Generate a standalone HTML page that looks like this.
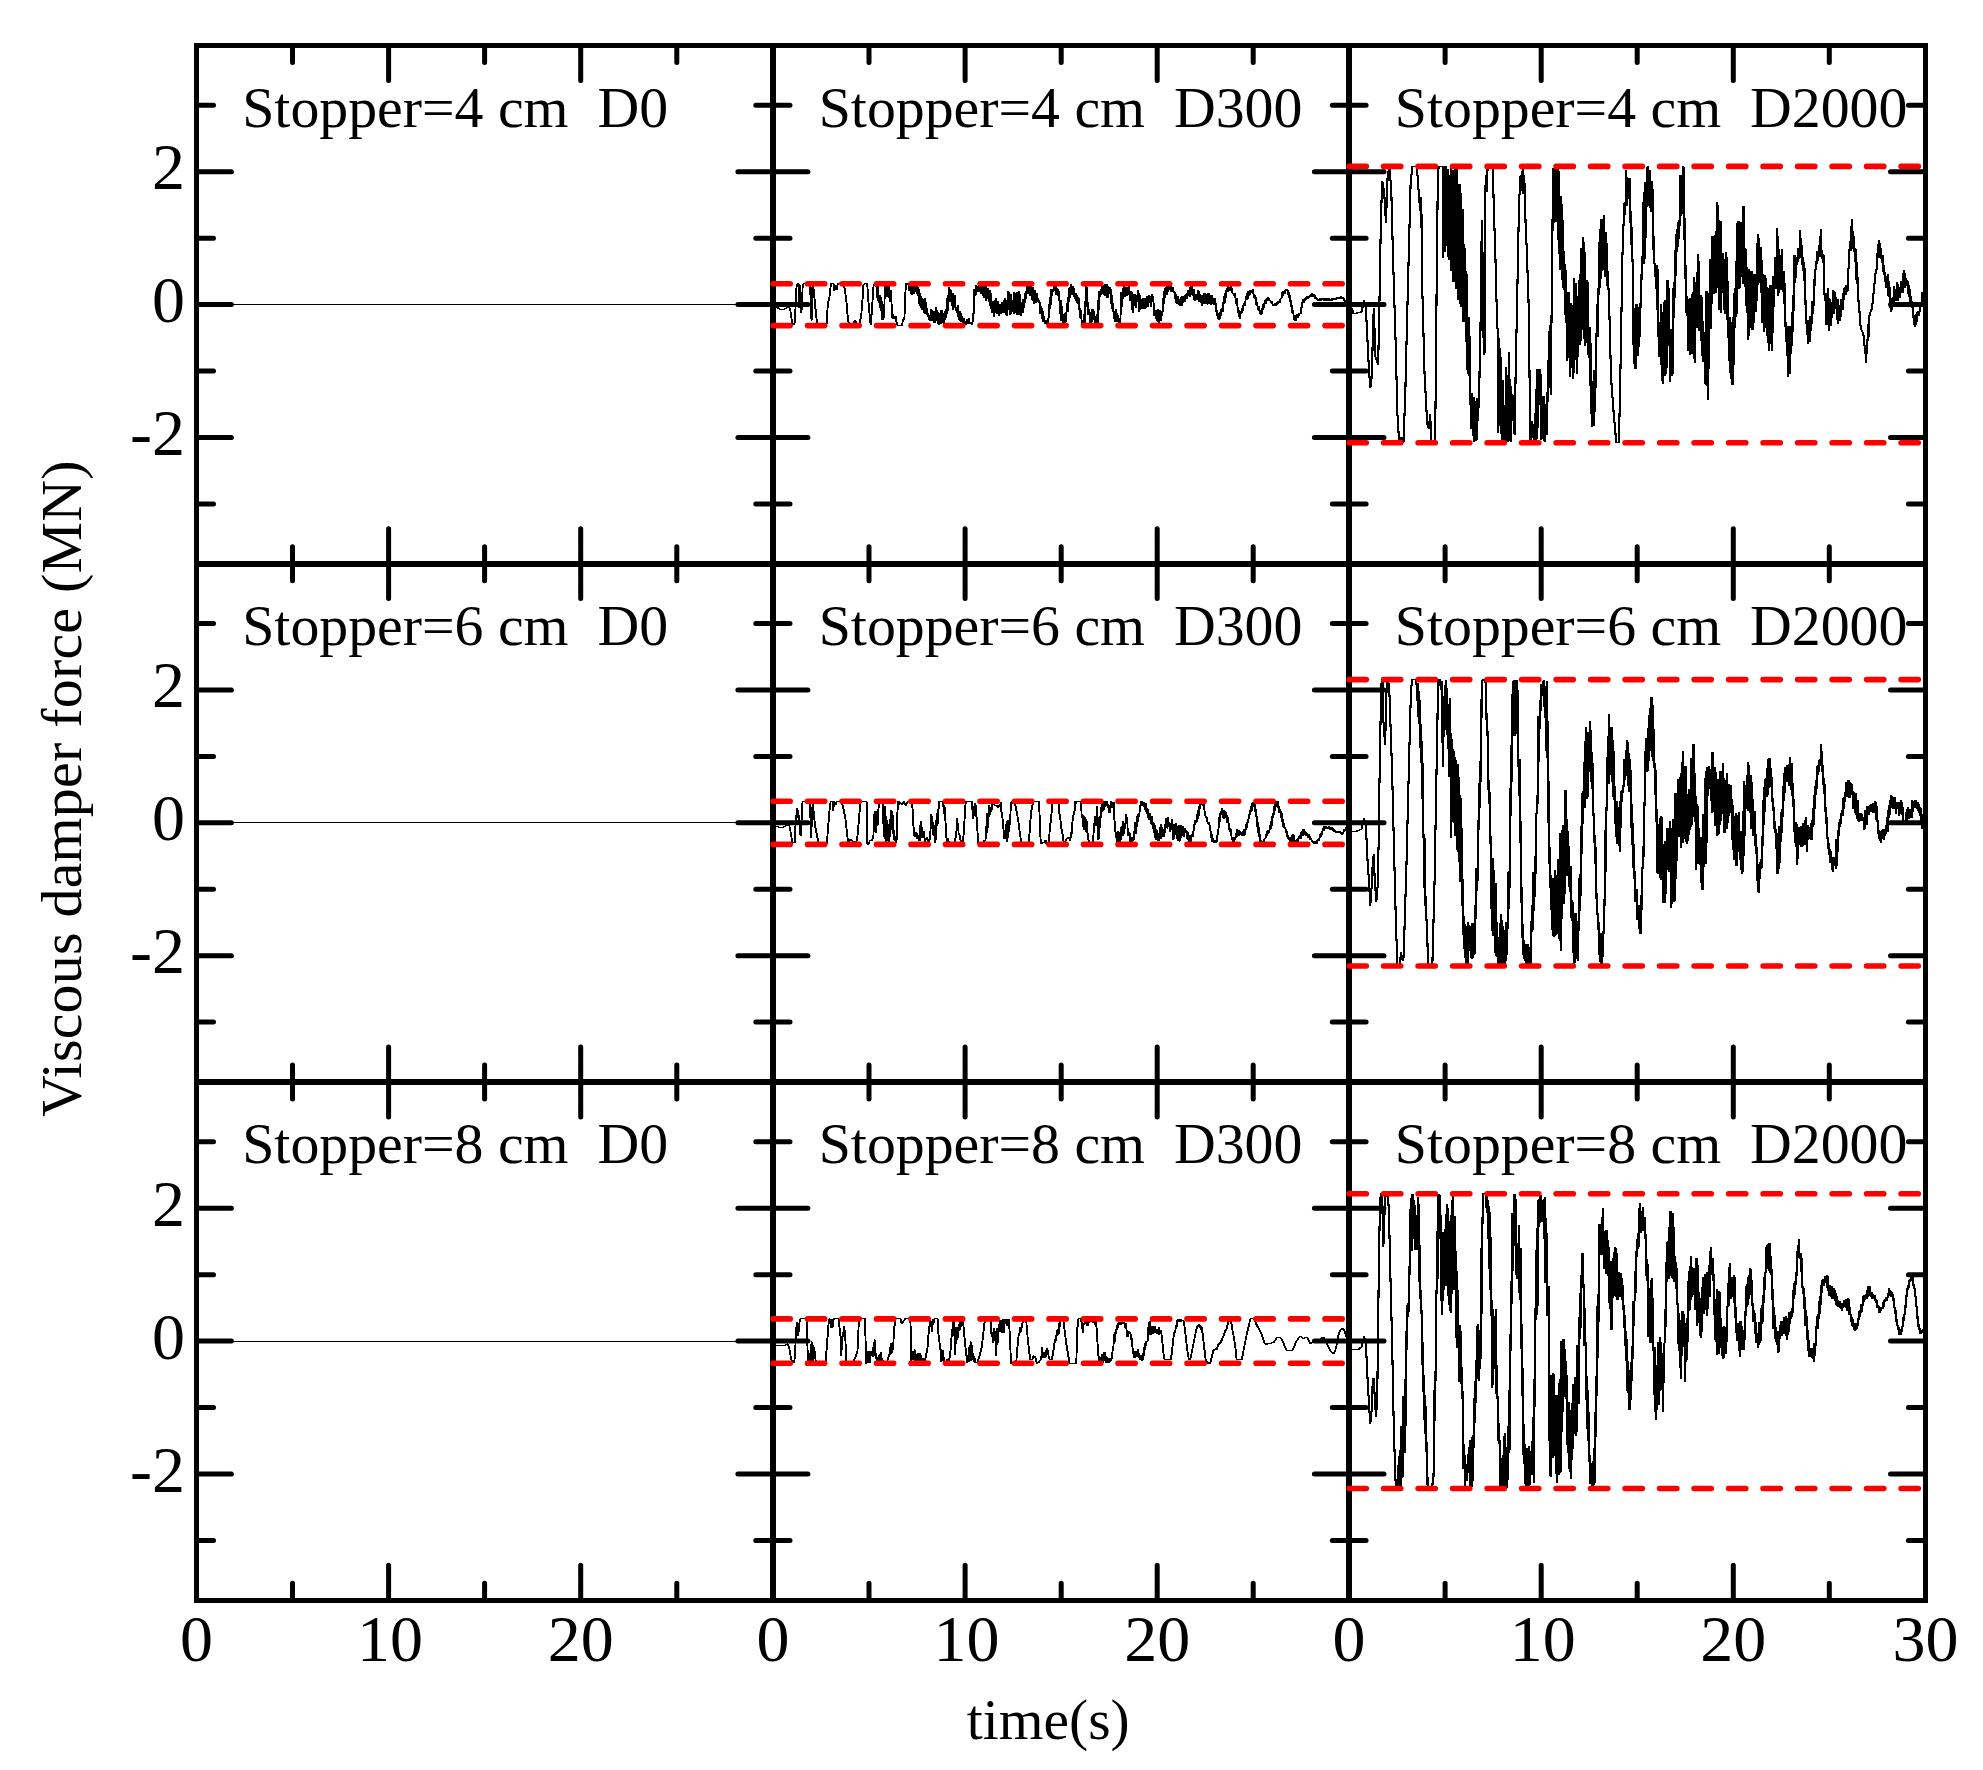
<!DOCTYPE html>
<html><head><meta charset="utf-8"><title>Viscous damper force</title>
<style>html,body{margin:0;padding:0;background:#fff}svg{display:block}text{font-family:"Liberation Serif","Times New Roman",serif;fill:#000}</style></head><body>
<svg width="1983" height="1770" viewBox="0 0 1983 1770">
<rect width="1983" height="1770" fill="#fff"/>
<g stroke="#000" fill="none" shape-rendering="crispEdges">
<rect x="196.5" y="45.5" width="1728.9" height="1554.6" stroke-width="5"/>
<path d="M773.0 45.5V1600.2M1349.1 45.5V1600.2M196.5 563.7H1925.4M196.5 1082.0H1925.4" stroke-width="6"/>
</g>
<g id="data" fill="none" shape-rendering="crispEdges">
<path stroke="#000" stroke-width="1" d="M196.5 304.6h576.3"/>
<path stroke="#000" stroke-width="1" d="M196.5 822.8h576.3"/>
<path stroke="#000" stroke-width="1" d="M196.5 1341.1h576.3"/>
<polyline id="d01" stroke="#000" stroke-width="1.0" stroke-linejoin="bevel" points="773.0,307.1 776.1,307.1 779.1,309.0 784.4,309.0 788.2,306.8 789.7,309.3 790.4,313.9 791.9,323.7 793.4,324.5 794.5,321.4 795.4,300.3 796.2,285.1 796.9,283.9 798.1,283.9 798.7,307.8 799.5,285.1 800.3,312.4 801.5,309.3 802.2,285.1 803.0,283.9 809.6,283.9 810.2,300.3 811.1,320.7 811.8,288.2 812.7,284.4 813.9,297.2 815.1,309.3 816.6,323.0 818.1,325.2 826.0,325.2 826.7,315.4 827.5,301.8 828.7,300.3 829.8,289.7 830.5,283.9 833.2,283.9 833.8,291.2 835.1,285.1 836.3,289.7 837.3,283.9 843.4,283.9 844.9,292.7 846.4,304.8 847.5,321.4 848.7,323.0 852.5,323.7 854.7,320.7 856.2,323.0 859.3,323.0 860.8,315.4 862.0,300.3 863.0,285.1 863.8,283.9 866.8,283.9 867.6,297.2 869.1,313.9 870.2,325.2 871.1,315.4 872.1,300.3 873.2,285.1 874.1,283.9 875.9,286.6 876.3,287.2 876.7,285.6 877.0,297.6 877.4,286.3 877.8,301.4 878.2,299.9 878.5,302.7 878.9,295.1 879.3,306.7 879.7,295.5 880.1,310.9 880.4,297.1 880.8,306.0 881.2,300.6 881.6,319.6 882.0,304.4 882.3,320.2 882.7,309.4 883.1,309.0 883.4,304.4 883.8,318.0 884.2,294.4 884.7,287.4 885.0,286.1 885.4,297.4 885.7,285.5 886.1,294.8 886.5,285.2 886.9,294.6 887.2,287.1 887.6,295.5 888.0,296.6 888.3,296.1 888.7,284.4 889.1,301.9 889.5,300.4 889.9,302.2 890.2,290.4 890.6,295.2 891.0,301.4 891.4,309.8 891.8,315.3 892.1,319.2 892.5,313.8 892.8,317.7 893.2,315.8 893.7,318.7 894.1,315.7 894.5,318.3 895.0,316.4 895.4,317.1 895.9,321.2 896.3,323.0 896.7,323.0 897.1,325.2 901.6,325.2 902.5,319.9 903.9,319.9 904.6,300.3 905.4,283.9 907.7,283.9 908.0,285.0 908.4,290.9 908.8,284.3 909.2,286.3 909.6,285.8 909.9,290.0 910.3,284.5 910.7,294.3 911.1,284.3 911.5,294.7 911.8,284.9 912.2,294.2 912.6,286.0 913.0,289.2 913.3,292.2 913.7,293.8 914.1,285.3 914.5,292.3 914.9,286.9 915.2,284.7 915.6,284.4 916.0,287.5 916.4,284.9 916.7,293.9 917.1,290.2 917.5,296.2 917.9,286.7 918.3,299.8 918.6,289.2 919.0,304.4 919.4,293.1 919.8,305.5 920.2,297.2 920.5,307.5 920.9,296.3 921.3,309.0 921.7,298.4 922.0,309.6 922.4,300.8 922.8,306.8 923.2,299.1 923.6,304.6 923.9,312.5 924.3,313.5 924.7,298.3 925.1,313.4 925.4,302.4 925.8,311.6 926.2,308.5 926.6,314.8 927.0,315.0 927.3,316.5 927.7,313.0 928.1,317.9 928.5,315.3 928.9,319.6 929.2,319.2 929.6,314.8 930.0,320.8 930.4,318.1 930.7,309.1 931.1,310.1 931.5,310.8 931.9,321.1 932.3,313.1 932.6,319.9 933.0,312.1 933.4,322.5 933.8,311.0 934.1,320.4 934.5,310.9 934.9,322.9 935.3,307.1 935.7,314.0 936.0,312.5 936.4,321.0 936.8,310.4 937.2,323.2 937.5,311.8 937.9,324.3 938.3,313.8 938.7,324.8 939.1,317.3 939.4,318.8 939.8,313.5 940.2,324.1 940.6,309.8 941.0,322.6 941.3,309.7 941.7,311.4 942.1,317.5 942.5,322.6 942.8,316.7 943.2,323.6 943.6,312.6 944.0,320.7 944.4,316.5 944.7,318.2 945.1,309.3 945.5,317.5 945.9,316.5 946.2,311.0 946.6,313.7 947.0,298.4 947.4,294.9 947.8,311.1 948.1,293.1 948.5,286.9 948.9,287.6 949.3,289.5 949.7,299.4 950.0,301.8 950.4,292.7 950.8,290.1 951.2,297.7 951.5,306.0 951.9,302.7 952.3,310.2 952.7,293.3 953.0,292.8 953.4,301.4 953.8,307.7 954.2,294.7 954.6,306.5 954.9,306.4 955.3,307.3 955.7,311.4 956.1,308.7 956.5,310.3 956.8,313.1 957.2,305.5 957.6,316.7 958.0,308.6 958.4,317.3 958.7,316.0 959.1,320.7 959.5,310.7 959.9,317.5 960.2,313.0 960.6,322.1 961.0,314.8 961.4,319.0 961.8,316.5 962.1,324.1 962.5,321.4 962.9,323.5 963.3,318.5 963.6,320.4 964.0,319.7 964.4,324.5 964.8,324.4 965.2,322.4 965.5,320.8 965.9,324.6 966.3,319.2 966.7,320.5 967.0,319.2 967.4,323.9 967.8,319.6 968.2,319.9 968.6,317.9 968.9,322.8 969.3,322.7 969.7,321.8 970.1,324.3 970.5,323.2 970.8,321.8 971.2,324.0 971.6,322.9 972.0,324.9 972.3,316.2 972.7,312.6 973.1,314.7 973.5,297.1 973.9,288.7 974.2,295.6 974.6,294.1 975.0,293.1 975.4,284.9 975.7,294.9 976.1,291.8 976.5,286.9 976.9,286.9 977.3,291.8 977.6,289.0 978.0,287.3 978.4,287.3 978.8,289.1 979.1,284.6 979.4,291.5 979.8,284.8 980.1,292.4 980.5,285.9 980.8,293.8 981.1,288.6 981.5,294.2 981.8,284.4 982.1,295.5 982.5,285.6 982.8,295.5 983.1,291.4 983.5,297.9 983.8,285.3 984.2,298.3 984.5,285.5 984.8,293.1 985.2,285.7 985.5,300.9 985.8,289.3 986.2,294.8 986.5,296.1 986.8,299.3 987.2,287.6 987.5,291.6 987.9,294.9 988.2,302.4 988.5,291.9 988.9,291.3 989.2,306.3 989.5,292.5 989.9,290.1 990.2,307.0 990.5,292.7 990.9,308.8 991.3,301.3 991.6,312.5 992.0,308.6 992.4,310.4 992.8,300.7 993.1,317.0 993.5,315.1 993.9,312.6 994.3,312.1 994.7,300.3 995.0,304.3 995.4,298.3 995.8,300.8 996.2,314.3 996.6,309.8 996.9,312.9 997.3,300.9 997.7,310.7 998.1,303.1 998.4,316.0 998.8,310.5 999.2,313.2 999.6,314.3 1000.0,312.5 1000.3,312.6 1000.7,313.5 1001.1,301.6 1001.5,310.8 1001.8,306.7 1002.2,305.1 1002.6,304.0 1003.0,312.5 1003.4,300.3 1003.7,313.0 1004.1,299.2 1004.5,299.8 1004.9,297.9 1005.2,307.1 1005.6,300.9 1006.0,314.9 1006.4,301.9 1006.8,315.5 1007.1,292.6 1007.5,310.1 1007.9,290.9 1008.3,292.4 1008.7,292.4 1009.0,307.5 1009.4,312.7 1009.8,314.5 1010.2,314.0 1010.5,313.5 1010.9,294.5 1011.3,304.7 1011.7,311.5 1012.1,310.5 1012.4,309.6 1012.8,305.7 1013.2,294.1 1013.6,313.8 1013.9,291.8 1014.3,313.3 1014.7,293.4 1015.1,312.6 1015.5,304.9 1015.8,311.9 1016.2,299.0 1016.6,314.5 1017.0,291.7 1017.4,305.5 1017.7,309.4 1018.1,315.3 1018.5,290.8 1018.9,315.2 1019.2,293.9 1019.6,313.4 1020.0,298.4 1020.4,315.5 1020.8,301.6 1021.1,305.5 1021.5,306.2 1021.9,305.7 1022.3,298.7 1022.6,312.9 1023.0,304.4 1023.4,308.3 1023.8,301.5 1024.2,302.7 1024.5,293.5 1024.9,299.9 1025.3,292.2 1025.7,299.1 1026.1,289.3 1026.4,292.2 1026.8,285.8 1027.2,292.4 1027.5,285.7 1027.9,294.1 1028.2,285.2 1028.5,293.6 1028.9,289.2 1029.2,296.2 1029.5,284.4 1029.9,289.2 1030.2,284.3 1030.5,290.4 1030.9,291.4 1031.2,298.6 1031.6,289.8 1031.9,299.8 1032.2,296.8 1032.6,301.4 1032.9,286.7 1033.2,302.9 1033.6,294.4 1033.9,304.0 1034.2,289.8 1034.6,290.6 1034.9,297.5 1035.3,299.7 1035.6,295.5 1035.9,303.3 1036.3,293.0 1036.6,300.7 1037.0,296.4 1037.4,301.7 1037.8,299.5 1038.2,302.2 1038.5,300.6 1038.9,302.3 1039.3,302.7 1039.7,313.7 1040.0,306.4 1040.4,306.1 1040.8,311.5 1041.2,308.3 1041.6,317.2 1041.9,319.2 1042.3,311.3 1042.7,321.7 1043.1,317.3 1043.4,316.0 1043.8,318.8 1044.2,323.8 1044.6,320.4 1045.0,323.0 1045.3,319.9 1045.7,323.1 1046.1,320.8 1046.5,324.9 1046.9,321.8 1047.2,323.1 1047.6,318.1 1048.0,321.8 1048.4,309.3 1048.7,312.8 1049.1,301.1 1049.5,309.2 1049.9,297.3 1050.3,304.5 1050.6,288.9 1051.0,294.7 1051.4,289.3 1051.8,296.0 1052.1,290.6 1052.5,291.2 1052.9,290.9 1053.3,288.5 1053.7,285.6 1054.0,289.5 1054.4,285.1 1054.8,291.4 1055.2,285.1 1055.6,295.4 1055.9,287.4 1056.3,289.1 1056.7,290.9 1057.1,289.7 1057.4,296.1 1057.8,288.9 1058.2,292.2 1058.6,300.9 1058.9,294.4 1059.3,311.9 1059.6,306.9 1060.0,313.5 1060.4,300.4 1060.8,320.6 1061.1,305.8 1061.5,316.4 1061.9,313.2 1062.3,323.5 1062.6,317.1 1063.0,322.5 1063.4,314.3 1063.8,323.5 1064.2,324.7 1064.5,324.8 1064.9,313.2 1065.3,321.7 1065.7,318.5 1066.1,309.6 1066.4,305.2 1066.8,310.0 1067.2,296.9 1067.6,311.8 1067.9,303.5 1068.3,299.9 1068.7,287.7 1069.1,298.7 1069.5,287.2 1069.8,296.6 1070.2,294.7 1070.6,285.1 1071.0,284.4 1071.3,289.8 1071.7,292.3 1072.1,290.1 1072.5,286.5 1072.9,295.3 1073.2,288.1 1073.6,296.8 1074.0,291.0 1074.4,299.1 1074.8,298.7 1075.1,298.1 1075.5,292.6 1075.9,300.5 1076.3,295.2 1076.6,302.9 1077.0,294.8 1077.4,304.4 1077.8,296.9 1078.2,305.9 1078.5,298.4 1078.9,310.0 1079.3,307.8 1079.7,311.8 1080.0,317.5 1080.4,309.7 1080.8,313.5 1081.2,323.6 1081.6,320.8 1081.9,319.9 1082.3,320.3 1082.7,323.3 1083.1,320.2 1083.4,323.0 1083.8,313.6 1084.2,323.3 1084.6,301.0 1085.0,311.2 1085.3,300.2 1085.7,304.8 1086.0,285.5 1086.5,292.1 1086.9,295.8 1087.3,307.0 1087.6,315.2 1088.0,313.9 1088.4,308.8 1088.7,309.5 1089.1,314.9 1089.5,323.6 1089.9,312.9 1090.3,324.8 1090.6,318.0 1091.0,312.3 1091.4,309.1 1091.8,321.6 1092.1,313.9 1092.5,320.1 1092.9,308.9 1093.3,312.6 1093.7,313.4 1094.0,319.2 1094.4,317.1 1094.8,323.5 1095.2,318.7 1095.6,324.7 1095.9,316.2 1096.3,320.6 1096.7,314.5 1097.1,324.2 1097.4,303.3 1097.8,318.3 1098.1,293.1 1098.5,309.8 1098.9,291.4 1099.3,296.9 1099.7,291.4 1100.1,295.6 1100.5,290.6 1100.8,293.9 1101.2,285.8 1101.6,294.3 1102.0,286.6 1102.4,292.5 1102.7,287.1 1103.1,294.0 1103.5,285.1 1103.9,295.2 1104.3,284.3 1104.6,296.2 1105.0,286.2 1105.4,294.0 1105.8,284.3 1106.1,289.0 1106.5,284.3 1106.9,298.3 1107.3,286.3 1107.7,298.3 1108.0,287.8 1108.4,294.4 1108.8,289.0 1109.2,291.9 1109.5,286.7 1109.9,294.3 1110.3,289.1 1110.7,304.4 1111.1,294.3 1111.4,308.8 1111.8,299.8 1112.2,311.6 1112.6,302.9 1113.0,310.0 1113.3,313.8 1113.7,318.2 1114.1,318.3 1114.5,321.6 1114.8,318.9 1115.2,308.8 1115.6,310.3 1116.0,316.7 1116.4,313.5 1116.7,322.0 1117.1,321.0 1117.5,315.8 1117.9,314.9 1118.2,324.7 1118.6,322.9 1119.0,322.4 1119.4,322.7 1119.8,324.7 1120.1,314.6 1120.5,314.8 1120.9,291.7 1121.3,306.8 1121.6,301.0 1122.0,298.8 1122.4,287.9 1122.8,298.6 1123.2,285.0 1123.5,296.7 1123.9,286.5 1124.2,296.9 1124.5,290.1 1124.9,296.4 1125.2,296.1 1125.6,286.9 1125.9,287.1 1126.2,295.7 1126.6,286.7 1126.9,292.3 1127.3,288.1 1127.7,294.8 1128.1,289.5 1128.5,284.4 1128.8,289.3 1129.2,299.9 1129.6,291.3 1130.0,300.5 1130.3,292.7 1130.7,292.7 1131.1,290.8 1131.5,310.1 1131.9,300.5 1132.2,312.7 1132.6,293.9 1133.0,303.6 1133.4,296.3 1133.8,300.5 1134.1,305.3 1134.5,305.4 1134.9,294.2 1135.3,308.0 1135.6,306.1 1136.0,295.9 1136.4,302.2 1136.8,301.6 1137.2,290.5 1137.5,301.4 1137.9,293.4 1138.3,311.7 1138.7,293.1 1139.0,311.6 1139.4,295.4 1139.8,310.0 1140.2,308.3 1140.6,299.2 1140.9,305.8 1141.3,306.8 1141.7,302.7 1142.1,308.9 1142.5,299.8 1142.8,297.6 1143.2,304.2 1143.6,298.8 1144.0,302.5 1144.3,309.2 1144.7,297.6 1145.1,307.8 1145.5,303.1 1145.9,305.3 1146.2,299.0 1146.6,300.6 1147.0,295.6 1147.4,307.4 1147.7,304.0 1148.1,304.1 1148.5,295.1 1148.9,302.7 1149.3,300.7 1149.6,301.7 1150.0,296.1 1150.4,306.7 1150.8,299.8 1151.1,301.9 1151.5,293.9 1151.9,295.5 1152.3,296.6 1152.7,300.6 1153.0,299.2 1153.4,311.5 1153.8,315.5 1154.2,312.7 1154.6,312.9 1154.9,310.0 1155.3,310.7 1155.7,318.7 1156.1,316.2 1156.4,319.5 1156.8,321.1 1157.2,315.6 1157.6,308.7 1158.0,322.1 1158.3,318.9 1158.7,322.6 1159.1,309.7 1159.5,319.4 1159.8,315.0 1160.2,311.4 1160.6,320.8 1161.0,317.2 1161.4,312.1 1161.7,315.5 1162.1,312.1 1162.5,308.6 1162.9,297.6 1163.3,303.6 1163.6,291.5 1164.0,301.8 1164.4,289.9 1164.8,290.2 1165.1,287.2 1165.5,295.4 1165.9,288.3 1166.3,294.5 1166.7,286.5 1167.0,293.2 1167.4,288.6 1167.8,288.6 1168.2,286.7 1168.5,287.0 1168.9,285.5 1169.3,288.7 1169.7,284.7 1170.1,291.7 1170.4,285.5 1170.8,287.2 1171.2,286.6 1171.6,292.2 1172.0,288.6 1172.3,287.4 1172.7,291.2 1173.1,290.9 1173.5,291.2 1173.8,292.7 1174.2,291.9 1174.6,299.1 1175.0,292.0 1175.4,302.6 1175.7,293.7 1176.1,302.6 1176.5,301.1 1176.9,304.2 1177.2,295.9 1177.6,304.2 1178.0,297.3 1178.4,304.9 1178.8,299.0 1179.1,299.6 1179.5,304.3 1179.9,306.3 1180.3,296.9 1180.7,302.4 1181.0,301.3 1181.4,305.8 1181.8,296.3 1182.2,301.9 1182.5,296.7 1182.9,302.5 1183.3,297.4 1183.7,297.5 1184.1,295.1 1184.4,302.3 1184.8,294.6 1185.2,298.9 1185.6,293.6 1185.9,295.8 1186.3,294.8 1186.7,298.8 1187.1,291.8 1187.5,293.4 1187.8,290.0 1188.2,296.2 1188.6,294.3 1189.0,294.1 1189.3,287.0 1189.7,296.5 1190.1,286.0 1190.5,291.0 1190.9,284.3 1191.2,286.2 1191.6,293.8 1192.0,295.0 1192.4,295.1 1192.8,295.6 1193.1,288.6 1193.5,299.6 1193.9,290.0 1194.3,299.9 1194.6,300.6 1195.0,299.7 1195.4,294.3 1195.8,299.5 1196.2,294.5 1196.5,299.8 1196.9,298.6 1197.3,300.0 1197.7,290.4 1198.0,300.4 1198.4,291.0 1198.8,301.6 1199.2,296.8 1199.6,301.7 1199.9,294.3 1200.3,303.2 1200.7,299.7 1201.1,296.4 1201.5,294.7 1201.8,305.5 1202.2,295.1 1202.6,297.1 1203.0,297.3 1203.3,304.2 1203.7,293.3 1204.1,295.9 1204.5,293.1 1204.9,300.3 1205.2,295.5 1205.6,303.9 1206.0,293.7 1206.4,296.2 1206.7,304.1 1207.1,304.1 1207.5,292.8 1207.9,303.5 1208.3,293.0 1208.6,295.2 1209.0,293.6 1209.4,303.7 1209.8,301.2 1210.2,303.5 1210.5,294.8 1210.9,305.1 1211.3,295.3 1211.7,304.4 1212.0,301.5 1212.4,303.6 1212.8,297.9 1213.2,304.9 1213.6,298.1 1213.9,299.4 1214.3,298.4 1214.7,305.4 1215.1,302.2 1215.4,311.1 1215.8,308.7 1216.2,314.2 1216.6,310.0 1217.0,316.0 1217.3,313.5 1217.7,318.8 1218.0,314.2 1218.4,319.8 1218.8,313.9 1219.2,318.6 1219.6,312.1 1220.0,314.0 1220.4,308.9 1220.7,315.8 1221.1,308.3 1221.5,311.9 1221.9,309.1 1222.3,311.6 1222.6,302.1 1223.0,306.5 1223.4,297.8 1223.8,304.3 1224.1,293.5 1224.5,302.5 1224.9,293.0 1225.3,298.3 1225.7,289.8 1226.0,290.3 1226.4,288.3 1226.8,289.2 1227.2,286.5 1227.5,291.9 1227.9,286.5 1228.3,291.0 1228.7,288.0 1229.1,290.4 1229.4,287.5 1229.8,290.4 1230.2,286.5 1230.6,291.1 1231.0,286.5 1231.3,291.9 1231.7,292.2 1232.1,293.1 1232.5,292.9 1232.8,293.9 1233.2,293.9 1233.6,296.4 1234.0,293.0 1234.4,296.4 1234.7,293.4 1235.1,299.4 1235.5,301.2 1235.9,303.6 1236.2,297.6 1236.6,305.5 1237.0,305.8 1237.4,310.6 1237.8,310.5 1238.1,314.3 1238.5,309.8 1238.9,316.7 1239.3,312.7 1239.7,318.6 1240.0,314.0 1240.4,313.3 1240.8,311.3 1241.2,311.3 1241.5,308.5 1241.9,312.8 1242.3,305.1 1242.7,310.9 1243.1,304.5 1243.4,303.6 1243.8,302.7 1244.2,306.3 1244.6,300.7 1244.9,304.0 1245.3,297.0 1245.7,298.9 1246.1,295.1 1246.5,300.3 1246.8,293.4 1247.2,298.9 1247.6,291.5 1248.0,294.8 1248.4,291.3 1248.7,296.1 1249.1,290.3 1249.5,294.6 1249.9,289.9 1250.2,292.4 1250.6,290.1 1251.0,292.2 1251.4,292.2 1251.8,293.1 1252.1,289.3 1252.5,293.5 1252.9,290.6 1253.3,296.2 1253.6,294.2 1254.0,297.6 1254.4,294.6 1254.8,298.6 1255.2,296.7 1255.5,302.3 1255.9,304.3 1256.3,305.5 1256.7,302.1 1257.0,306.4 1257.4,306.3 1257.8,309.7 1258.2,305.9 1258.6,311.1 1258.9,309.5 1259.3,313.1 1259.7,309.7 1260.1,314.9 1260.5,311.2 1260.8,313.4 1261.2,313.6 1261.6,310.6 1262.0,307.9 1262.3,310.4 1262.7,304.4 1263.1,308.0 1263.5,303.1 1263.9,306.5 1264.2,301.6 1264.6,301.3 1265.0,300.4 1265.4,303.6 1265.7,299.6 1266.1,299.3 1266.5,298.3 1266.9,300.9 1267.3,300.8 1267.6,299.8 1268.0,297.0 1268.4,299.9 1268.8,298.4 1269.2,300.5 1269.5,300.3 1269.9,300.2 1270.3,301.5 1270.7,302.9 1271.0,300.6 1271.4,304.1 1271.8,302.2 1272.2,304.8 1272.6,303.8 1272.9,306.0 1273.3,305.5 1273.7,305.9 1274.1,302.9 1274.4,305.9 1274.8,303.1 1275.2,305.8 1275.6,303.9 1276.0,305.4 1276.3,302.4 1276.7,305.1 1277.1,304.0 1277.5,304.2 1277.9,301.4 1278.2,303.3 1278.6,301.1 1279.0,302.6 1279.4,300.5 1279.7,302.5 1280.1,298.5 1280.5,297.8 1280.9,298.4 1281.3,297.7 1281.6,291.6 1282.0,294.2 1282.4,295.8 1282.8,290.8 1283.1,291.3 1283.5,294.1 1283.9,293.0 1284.3,293.6 1284.7,290.4 1285.0,290.3 1285.4,289.7 1285.8,290.8 1286.2,288.9 1286.6,291.3 1286.9,289.3 1287.3,292.4 1287.7,290.0 1288.1,295.9 1288.4,292.3 1288.8,298.3 1289.2,294.6 1289.6,299.5 1290.0,302.4 1290.3,301.5 1290.7,300.6 1291.1,308.6 1291.5,305.2 1291.8,312.7 1292.2,309.7 1292.6,312.0 1293.0,313.5 1293.4,319.9 1293.7,316.3 1294.1,320.8 1294.5,316.5 1294.9,320.6 1295.2,320.6 1295.6,320.1 1296.0,314.6 1296.4,317.8 1296.8,314.1 1297.1,317.4 1297.5,316.9 1297.9,314.3 1298.3,313.1 1298.7,316.1 1299.0,314.7 1299.4,313.2 1299.8,314.3 1300.2,313.5 1300.5,307.5 1300.9,310.5 1301.3,304.9 1301.7,305.9 1302.1,301.0 1302.4,300.2 1302.8,299.4 1303.2,302.9 1303.6,299.1 1303.9,301.8 1304.3,299.7 1304.7,299.8 1305.1,296.9 1305.4,299.7 1305.8,297.1 1306.1,297.7 1306.4,296.2 1306.8,296.3 1307.1,296.7 1307.4,298.2 1307.8,298.3 1308.1,298.2 1308.5,296.3 1308.9,297.6 1309.2,294.8 1309.6,296.8 1310.0,296.8 1310.4,296.9 1310.8,293.9 1311.1,296.5 1311.5,293.5 1311.9,296.1 1312.3,295.0 1312.6,295.5 1313.0,296.6 1313.4,295.8 1313.8,294.5 1314.2,296.8 1314.5,295.3 1314.9,298.5 1315.3,296.8 1315.7,297.8 1316.1,298.6 1316.4,300.2 1316.8,298.6 1317.2,300.5 1317.6,300.1 1317.9,300.0 1318.3,299.4 1318.7,300.3 1319.1,298.4 1319.5,300.7 1319.8,300.1 1320.2,300.7 1320.6,298.0 1321.0,300.3 1321.3,297.7 1321.7,299.4 1322.1,298.0 1322.5,300.2 1322.9,299.6 1323.2,300.3 1323.6,298.5 1324.0,300.6 1324.4,298.8 1324.8,300.1 1325.1,299.3 1325.5,300.7 1325.9,298.4 1326.3,300.6 1326.6,298.4 1327.0,299.3 1327.4,299.9 1327.8,299.6 1328.2,298.9 1328.5,300.7 1328.9,298.5 1329.3,300.3 1329.7,299.6 1330.0,300.5 1330.4,298.9 1330.8,300.9 1331.2,299.0 1331.6,300.5 1331.9,298.5 1332.3,298.7 1332.7,298.7 1333.1,299.5 1333.4,299.5 1333.8,299.1 1334.2,298.0 1334.6,298.9 1335.0,298.3 1335.3,299.5 1335.7,298.4 1336.1,298.2 1336.5,297.3 1336.9,299.3 1337.2,297.4 1337.6,299.1 1338.0,298.0 1338.4,298.9 1338.7,296.9 1339.1,297.7 1339.5,298.2 1339.9,298.7 1340.3,296.5 1340.6,298.0 1341.0,297.4 1341.4,298.7 1341.8,296.8 1342.1,297.0 1342.5,297.2 1342.9,298.3 1343.3,298.0 1343.7,300.6 1344.0,299.0 1344.4,301.4 1344.8,300.4 1345.2,301.6 1345.6,299.9 1345.9,301.8 1346.3,301.4 1346.7,302.5 1347.1,301.4 1347.5,302.2 1347.9,301.5 1348.3,301.5 1348.7,301.8"/>
<use href="#d01" x="0.9"/>
<polyline id="d11" stroke="#000" stroke-width="1.0" stroke-linejoin="bevel" points="773.0,825.1 776.8,826.6 779.1,827.6 783.6,827.0 786.6,825.1 788.9,825.8 790.4,833.4 791.9,843.2 794.2,842.5 795.0,825.8 796.0,815.2 796.9,807.7 797.7,818.3 798.4,815.2 799.5,833.4 800.3,836.4 801.2,818.3 802.1,801.3 809.6,801.3 810.2,825.8 810.8,837.9 811.6,810.7 812.4,803.1 813.1,810.7 814.6,825.8 816.1,833.4 817.7,841.0 818.4,844.0 826.3,844.0 827.2,833.4 828.2,821.3 829.3,807.7 830.2,801.3 832.0,801.3 832.8,810.7 833.5,801.3 835.1,804.6 836.6,801.3 840.3,801.3 841.9,804.6 843.4,810.7 844.9,818.3 846.4,831.9 847.5,841.0 848.7,841.0 850.2,839.4 851.7,841.0 856.2,841.0 857.4,833.4 858.5,818.3 859.6,806.2 860.5,801.3 866.1,801.3 866.5,818.3 866.8,844.0 868.3,844.0 869.5,840.2 871.1,841.0 872.9,837.9 873.6,818.3 874.4,810.7 875.1,833.4 876.2,810.7 877.1,825.8 878.2,806.2 879.2,801.3 882.0,801.3 882.3,806.5 882.7,802.2 883.1,830.3 883.5,809.7 883.8,837.3 884.2,810.1 884.6,838.5 885.0,806.2 885.4,842.5 885.7,820.3 886.1,841.6 886.5,819.9 886.9,826.3 887.2,835.1 887.6,824.4 888.0,826.6 888.4,843.2 888.8,831.9 889.1,838.1 889.5,819.0 889.9,831.4 890.2,829.7 890.6,819.2 891.0,809.9 891.5,824.7 891.8,811.5 892.2,816.5 892.5,819.1 892.9,834.4 893.3,829.7 893.7,840.1 894.1,835.6 894.4,838.5 894.8,838.6 895.2,843.4 895.6,839.8 895.9,841.5 896.3,838.9 896.7,830.6 897.1,807.4 897.5,809.8 897.8,801.3 898.2,804.8 898.6,801.3 901.6,804.6 903.1,801.6 905.4,805.4 906.9,802.4 907.7,801.3 911.5,801.3 912.2,810.7 913.0,825.8 913.7,834.9 914.1,835.8 914.5,834.0 914.9,837.2 915.2,832.2 915.6,836.6 916.0,834.1 916.4,838.7 916.7,832.7 917.1,836.2 917.5,837.9 917.9,839.3 918.3,835.3 918.7,840.6 919.1,834.3 919.5,840.6 920.0,825.2 920.4,837.9 920.8,821.0 921.1,827.0 921.5,830.2 921.9,833.7 922.3,836.6 922.6,837.6 923.0,831.1 923.4,832.0 923.8,835.0 924.2,840.5 924.5,841.4 926.8,836.9 927.6,843.0 929.5,839.2 930.2,827.8 931.0,814.2 931.3,819.7 931.7,821.9 932.1,829.6 932.5,821.8 932.9,835.4 933.2,824.6 933.6,836.0 934.0,825.8 934.4,842.7 934.8,838.2 935.1,841.6 935.5,823.2 935.9,820.9 936.3,818.8 936.6,826.0 937.0,813.3 937.4,823.8 937.8,809.4 938.2,808.8 938.5,801.3 942.7,801.3 943.1,808.0 943.4,805.5 943.8,813.6 944.2,807.4 944.6,819.9 945.0,820.3 945.7,835.4 946.5,841.4 946.9,840.9 947.2,838.3 947.6,843.0 948.0,840.0 948.4,843.4 948.7,844.1 954.0,844.1 954.8,839.9 955.2,837.2 955.6,836.8 955.9,836.5 956.3,817.8 956.7,825.3 957.1,831.4 957.4,825.6 957.8,822.6 958.2,835.0 958.6,833.9 959.0,833.6 959.3,836.5 959.7,837.8 960.1,840.6 960.5,841.1 960.8,842.4 961.2,843.6 961.6,840.1 962.0,842.7 962.4,844.1 963.1,835.4 963.9,823.3 964.6,808.9 965.4,801.3 971.1,801.3 971.4,809.3 971.8,801.4 972.2,818.4 972.6,805.8 973.0,819.1 973.3,811.2 973.7,815.9 974.1,815.7 974.5,812.4 974.8,802.9 975.2,817.4 975.6,804.6 976.0,815.8 976.4,820.3 977.1,832.4 977.9,844.1 980.5,844.1 982.8,844.1 983.9,839.9 984.3,840.4 984.7,840.6 985.1,839.8 985.4,829.7 985.8,834.6 986.2,818.6 986.6,832.7 986.9,813.2 987.3,827.9 987.7,813.4 988.1,818.1 988.5,804.8 988.8,808.9 989.2,810.9 989.6,815.4 990.0,812.5 990.3,810.8 990.7,807.1 991.1,810.4 991.5,804.4 992.6,804.4 994.5,805.1 994.9,805.4 995.3,806.2 995.6,805.4 996.0,805.2 996.4,805.6 996.8,805.5 997.2,807.6 997.5,805.9 997.9,807.1 998.3,805.9 998.7,806.0 999.0,806.1 999.4,804.5 999.8,803.9 1000.2,809.4 1000.6,802.1 1000.9,810.7 1001.3,813.7 1001.7,815.0 1002.5,823.3 1003.2,830.8 1003.6,834.9 1004.0,839.3 1004.3,831.0 1004.7,836.2 1005.1,833.5 1005.5,839.1 1005.9,823.9 1006.2,842.4 1006.6,820.7 1007.0,834.5 1007.4,820.1 1007.7,838.0 1008.1,826.7 1008.5,832.3 1008.9,819.9 1009.3,825.3 1009.6,818.9 1010.0,814.7 1010.4,801.7 1010.8,809.4 1011.1,802.2 1011.5,803.5 1011.9,801.3 1013.8,801.3 1014.6,804.4 1015.7,808.9 1016.8,815.0 1018.0,821.8 1018.7,827.8 1019.5,833.9 1020.2,838.4 1021.0,844.1 1028.2,844.1 1028.9,835.4 1029.7,824.8 1030.4,815.0 1031.2,808.9 1032.0,805.1 1032.7,801.3 1038.4,801.3 1038.8,807.4 1039.5,824.0 1040.3,844.1 1042.5,842.2 1044.1,842.2 1045.2,839.9 1045.9,844.1 1048.6,844.1 1049.3,827.8 1050.5,820.3 1051.6,807.4 1052.4,801.3 1058.4,801.3 1058.8,812.7 1059.9,818.7 1060.7,826.3 1061.5,832.4 1062.6,835.4 1063.3,844.1 1064.9,841.4 1066.4,838.4 1067.9,836.9 1069.4,839.2 1069.8,840.4 1070.2,837.4 1070.6,838.2 1071.0,831.9 1071.4,833.8 1071.8,823.5 1072.2,820.3 1072.6,817.5 1072.9,816.3 1073.3,811.0 1073.7,815.0 1074.0,811.7 1074.3,808.5 1074.7,801.3 1075.1,804.0 1075.5,802.6 1075.9,801.3 1080.4,801.3 1080.8,804.7 1081.2,816.9 1081.6,817.5 1082.0,817.1 1082.4,815.6 1082.8,827.0 1083.1,815.2 1083.5,830.0 1083.9,820.2 1084.3,828.1 1084.7,816.6 1085.0,824.5 1085.4,819.3 1085.8,831.5 1086.2,821.4 1086.6,832.5 1086.9,829.5 1087.3,836.0 1087.6,838.5 1088.0,839.9 1088.4,840.0 1088.7,844.0 1092.5,844.0 1093.3,830.4 1094.5,818.3 1094.8,816.4 1095.2,822.9 1095.6,815.9 1095.9,825.5 1096.3,822.2 1096.6,806.4 1097.0,809.1 1097.4,837.5 1097.8,840.1 1098.3,837.6 1098.7,831.8 1099.2,826.8 1099.6,821.7 1100.1,814.6 1100.5,806.6 1100.9,818.1 1101.3,804.4 1101.6,811.7 1102.0,809.8 1102.4,811.2 1102.7,801.4 1103.1,810.7 1103.5,801.3 1103.9,805.0 1104.3,801.3 1104.6,806.9 1105.0,801.3 1105.4,803.8 1105.8,804.6 1106.1,802.2 1106.5,801.3 1106.9,805.8 1107.3,804.4 1107.7,808.4 1108.0,805.0 1108.4,812.7 1108.8,804.8 1109.2,806.9 1109.5,810.2 1109.9,813.4 1110.3,801.5 1110.7,802.3 1111.0,801.4 1111.4,808.3 1111.8,802.0 1112.2,808.1 1112.5,802.6 1112.9,807.7 1113.3,802.0 1113.9,818.3 1114.8,830.4 1115.2,833.6 1115.6,838.1 1116.0,834.0 1116.4,843.2 1116.7,832.4 1117.1,843.5 1117.5,831.3 1117.9,842.5 1118.2,841.7 1118.6,837.0 1119.0,841.2 1119.4,841.7 1119.8,832.4 1120.1,840.0 1120.5,834.2 1120.9,827.9 1121.3,826.5 1121.6,831.8 1122.0,836.1 1122.4,834.7 1122.8,821.5 1123.2,834.1 1123.5,823.0 1123.9,833.4 1124.3,824.8 1124.7,824.2 1125.0,825.6 1125.4,820.5 1125.7,813.8 1126.1,818.6 1126.5,821.8 1126.9,817.2 1127.2,831.9 1127.6,835.6 1128.0,830.8 1128.4,834.8 1128.8,832.3 1129.2,833.0 1129.5,836.0 1129.9,841.6 1130.3,836.8 1130.7,843.4 1131.1,840.5 1131.5,842.5 1131.9,838.4 1132.2,840.1 1132.6,837.5 1133.0,840.6 1133.4,837.7 1133.8,838.5 1134.1,828.0 1134.5,834.2 1134.9,822.0 1135.3,833.6 1135.6,823.4 1136.0,830.6 1136.4,816.5 1136.8,825.6 1137.2,817.3 1137.5,821.5 1137.9,813.8 1138.3,816.5 1138.7,813.3 1139.0,813.0 1139.4,808.1 1139.8,804.7 1140.2,805.0 1140.6,805.3 1140.9,801.4 1141.3,801.8 1141.7,801.3 1142.1,804.1 1142.5,801.7 1142.8,806.2 1143.2,801.8 1143.6,806.6 1144.0,804.5 1144.3,808.3 1144.7,806.8 1145.1,810.7 1145.5,803.5 1145.9,810.8 1146.2,813.3 1146.6,813.7 1147.0,808.1 1147.4,811.1 1147.7,813.3 1148.1,819.0 1148.5,812.6 1148.9,819.5 1149.3,812.9 1149.6,819.1 1150.0,817.7 1150.4,820.1 1150.8,823.5 1151.1,824.7 1151.5,816.3 1151.9,824.4 1152.3,826.7 1152.7,829.2 1153.0,821.6 1153.4,832.5 1153.8,823.3 1154.2,827.2 1154.6,825.5 1154.9,837.7 1155.3,830.6 1155.7,840.2 1156.1,829.2 1156.4,838.6 1156.8,830.2 1157.2,840.6 1157.6,835.3 1158.0,836.0 1158.3,832.9 1158.7,840.5 1159.1,835.9 1159.5,828.0 1159.8,826.6 1160.2,834.2 1160.6,823.9 1161.0,839.0 1161.4,826.6 1161.7,827.8 1162.1,829.2 1162.5,836.6 1162.9,835.7 1163.3,837.1 1163.6,829.5 1164.0,836.0 1164.4,824.1 1164.8,829.7 1165.1,828.0 1165.5,818.8 1165.9,818.6 1166.3,826.1 1166.7,818.5 1167.0,828.5 1167.4,817.5 1167.8,820.3 1168.2,827.0 1168.5,826.5 1168.9,822.5 1169.3,832.4 1169.7,827.3 1170.1,829.8 1170.4,822.6 1170.8,830.3 1171.2,818.7 1171.6,828.0 1172.0,823.1 1172.3,840.2 1172.7,826.9 1173.1,840.3 1173.5,824.5 1173.8,839.0 1174.2,828.7 1174.6,834.9 1175.0,825.0 1175.4,830.1 1175.7,823.1 1176.1,833.8 1176.5,837.1 1176.9,838.5 1177.2,830.5 1177.6,841.2 1178.0,825.7 1178.4,840.6 1178.8,825.0 1179.1,842.4 1179.5,826.4 1179.9,839.1 1180.3,827.4 1180.7,837.6 1181.0,825.4 1181.4,835.5 1181.8,830.8 1182.2,836.0 1182.5,825.6 1182.9,830.5 1183.3,829.5 1183.7,837.3 1184.1,827.9 1184.4,829.6 1184.8,829.2 1185.2,831.8 1185.6,830.5 1185.9,832.9 1186.3,830.7 1186.7,838.8 1187.1,833.3 1187.5,840.3 1187.8,832.2 1188.2,842.8 1188.6,834.7 1189.0,841.7 1189.4,839.1 1189.8,837.6 1190.2,836.3 1190.6,842.1 1190.9,834.6 1191.3,835.1 1191.7,834.3 1192.1,836.2 1192.5,837.1 1192.8,833.1 1193.2,830.0 1193.6,829.5 1194.0,824.0 1194.3,825.0 1194.7,820.6 1195.1,821.5 1195.5,823.0 1195.9,822.4 1196.2,815.8 1196.6,821.7 1197.0,813.8 1197.4,819.3 1197.7,810.2 1198.1,816.3 1198.5,806.5 1198.9,808.8 1199.3,808.1 1199.6,808.0 1200.0,804.2 1200.4,803.5 1200.7,802.6 1201.1,803.8 1201.5,801.3 1201.8,805.0 1202.2,803.2 1202.6,805.6 1203.0,802.2 1203.3,805.9 1203.7,805.8 1204.1,811.4 1204.5,814.2 1204.9,815.6 1205.2,816.1 1205.6,818.3 1206.0,816.4 1206.4,818.9 1206.7,817.5 1207.1,823.0 1207.5,823.3 1207.9,823.0 1208.3,822.6 1208.6,825.4 1209.0,823.3 1209.4,829.2 1209.8,830.3 1210.2,831.9 1210.5,835.1 1210.9,837.6 1211.3,833.8 1211.7,840.5 1212.0,841.5 1212.4,838.7 1212.8,838.4 1213.2,843.2 1213.6,840.0 1213.9,841.2 1214.3,842.0 1214.7,842.2 1215.1,842.6 1215.4,841.4 1215.8,839.8 1216.2,841.6 1216.6,837.8 1217.0,834.9 1217.4,833.5 1217.7,830.9 1218.1,828.3 1218.4,827.5 1218.8,817.3 1219.2,822.4 1219.6,820.1 1220.0,812.6 1220.4,810.8 1220.7,814.9 1221.1,809.7 1221.5,815.2 1221.9,808.4 1222.3,818.3 1222.6,815.2 1223.0,813.0 1223.4,809.8 1223.8,818.7 1224.1,811.3 1224.5,815.7 1224.9,811.6 1225.3,817.7 1225.7,811.8 1226.0,814.1 1226.4,816.0 1226.8,822.5 1227.2,817.0 1227.5,821.8 1227.9,820.1 1228.3,827.5 1228.7,822.7 1229.1,831.5 1229.5,828.5 1229.9,828.5 1230.3,830.4 1230.7,834.0 1231.0,836.2 1231.4,839.7 1231.8,837.3 1232.2,842.1 1232.5,840.7 1232.9,842.2 1233.3,841.4 1233.7,843.1 1234.0,837.0 1234.4,840.1 1234.7,836.7 1235.1,837.9 1235.5,833.4 1235.9,837.5 1236.2,829.3 1236.6,837.0 1237.0,833.6 1237.4,836.4 1237.8,832.9 1238.1,835.0 1238.5,830.1 1238.9,836.3 1239.3,831.4 1239.7,834.8 1240.0,834.2 1240.4,832.9 1240.8,833.0 1241.2,835.9 1241.5,831.9 1241.9,835.2 1242.3,831.5 1242.7,833.1 1243.1,835.5 1243.4,835.6 1243.8,829.2 1244.2,834.8 1244.6,828.8 1244.9,832.7 1245.3,825.0 1245.7,830.4 1246.1,822.4 1246.5,828.1 1246.8,825.8 1247.2,822.4 1247.6,818.8 1248.0,820.9 1248.4,815.6 1248.7,818.0 1249.1,812.7 1249.5,815.2 1249.9,810.1 1250.2,810.3 1250.6,806.5 1251.0,811.9 1251.4,808.4 1251.8,805.3 1252.1,802.7 1252.5,806.9 1252.9,802.1 1253.3,806.0 1253.6,802.2 1254.0,804.6 1254.4,802.0 1254.8,812.2 1255.2,809.4 1255.5,816.7 1255.9,812.1 1256.3,820.9 1256.7,816.4 1257.0,827.2 1257.4,821.6 1257.8,833.1 1258.2,826.9 1258.6,836.9 1258.9,832.2 1259.3,834.8 1259.6,841.4 1260.0,843.6 1260.3,840.0 1260.7,840.7 1261.0,843.2 1261.4,840.9 1261.7,843.6 1262.1,843.1 1262.4,843.6 1262.8,841.2 1263.1,841.3 1263.5,843.2 1263.8,840.2 1264.2,838.6 1264.5,837.9 1264.9,839.2 1265.3,836.5 1265.7,837.0 1266.1,833.3 1266.4,835.6 1266.8,831.5 1267.2,834.3 1267.6,829.8 1268.0,832.6 1268.4,831.9 1268.8,833.0 1269.2,827.0 1269.5,830.0 1269.9,824.7 1270.3,829.3 1270.7,820.8 1271.0,826.8 1271.4,824.2 1271.8,818.9 1272.2,813.0 1272.6,818.3 1272.9,815.0 1273.3,814.9 1273.7,805.6 1274.1,811.7 1274.4,803.5 1274.8,805.0 1275.2,807.1 1275.6,801.5 1275.9,804.5 1276.3,805.8 1276.7,802.7 1277.0,804.3 1277.4,801.3 1277.8,808.3 1278.2,805.7 1278.6,813.0 1279.0,812.1 1279.4,812.2 1279.7,809.3 1280.1,812.7 1280.5,810.7 1280.9,818.0 1281.3,813.2 1281.6,822.1 1282.0,817.8 1282.4,822.7 1282.8,826.1 1283.1,827.4 1283.5,822.9 1283.9,825.1 1284.3,828.6 1284.7,827.9 1285.0,828.0 1285.4,833.0 1285.8,831.1 1286.2,834.5 1286.6,831.0 1286.9,836.7 1287.3,834.9 1287.7,838.4 1288.1,839.1 1288.4,837.1 1288.8,837.4 1289.2,842.7 1289.6,840.0 1290.0,838.9 1290.3,842.0 1290.7,841.8 1291.1,835.5 1291.5,841.6 1291.8,836.8 1292.2,840.1 1292.6,837.5 1293.0,833.7 1293.4,837.0 1293.7,840.7 1294.1,841.8 1294.5,840.5 1294.9,839.9 1295.2,842.6 1295.6,840.3 1296.0,843.4 1296.4,839.0 1296.8,842.1 1297.1,838.5 1297.5,843.0 1297.9,837.6 1298.3,838.9 1298.7,837.2 1299.0,835.7 1299.4,835.2 1299.8,838.7 1300.2,832.8 1300.5,838.8 1300.9,832.1 1301.3,836.3 1301.7,830.9 1302.1,836.0 1302.4,829.2 1302.8,831.1 1303.2,830.4 1303.6,834.5 1303.9,829.4 1304.3,835.0 1304.7,830.7 1305.1,834.4 1305.5,832.4 1305.8,836.0 1306.2,834.5 1306.6,835.4 1307.0,833.9 1307.4,834.0 1307.7,834.5 1308.1,838.3 1308.5,837.0 1308.9,834.2 1309.2,837.6 1309.6,840.2 1310.0,839.2 1310.4,839.6 1310.8,838.2 1311.1,841.0 1311.5,840.2 1311.9,841.6 1312.3,841.8 1312.6,842.4 1313.0,842.3 1313.4,843.7 1313.8,841.2 1314.2,843.7 1314.5,841.7 1314.9,843.3 1315.3,842.5 1315.7,842.7 1316.1,840.7 1316.4,843.5 1316.8,840.0 1317.2,840.2 1317.6,838.9 1317.9,841.3 1318.3,840.5 1318.7,839.1 1319.1,837.6 1319.5,835.3 1319.8,834.5 1320.2,836.8 1320.6,833.2 1321.0,833.8 1321.3,831.1 1321.7,834.5 1322.1,830.8 1322.5,828.5 1322.9,829.6 1323.2,831.3 1323.6,826.5 1324.0,829.7 1324.4,826.1 1324.8,829.1 1325.1,827.1 1325.5,826.7 1325.9,825.7 1326.3,827.8 1326.6,827.8 1327.0,828.6 1327.4,828.2 1327.8,829.0 1328.2,826.2 1328.5,827.6 1328.9,826.7 1329.3,829.1 1329.7,827.2 1330.0,829.7 1330.4,827.2 1330.8,829.8 1331.2,827.2 1331.6,829.8 1331.9,828.8 1332.3,831.0 1332.7,828.2 1333.1,831.5 1333.4,828.7 1333.8,832.0 1334.2,830.0 1334.6,832.3 1335.0,829.8 1335.3,832.4 1335.7,831.7 1336.1,832.1 1336.5,832.4 1336.9,832.8 1337.2,831.5 1337.6,833.1 1338.0,831.5 1338.4,832.4 1338.7,831.5 1339.1,832.9 1339.5,831.5 1339.9,832.8 1340.3,833.4 1340.6,832.4 1341.0,833.3 1341.4,834.6 1341.8,832.4 1342.1,833.7 1342.5,832.9 1342.9,832.8 1343.3,830.0 1343.7,831.6 1344.0,828.9 1344.4,830.0 1344.8,830.0 1345.2,829.4 1345.6,827.6 1345.9,829.3 1346.3,827.9 1346.7,828.5 1347.1,827.1 1347.4,828.1 1347.8,827.4 1348.2,827.3"/>
<use href="#d11" x="0.9"/>
<polyline id="d21" stroke="#000" stroke-width="1.0" stroke-linejoin="bevel" points="773.0,1345.6 776.8,1345.6 779.8,1345.0 784.4,1345.3 787.4,1343.8 788.9,1348.4 790.4,1357.4 791.9,1363.2 793.9,1362.0 794.7,1351.4 795.4,1336.3 796.2,1324.2 796.9,1322.6 797.7,1336.3 798.4,1328.7 799.2,1321.1 800.3,1318.9 806.3,1318.9 806.8,1336.3 807.4,1363.2 807.8,1363.2 808.2,1361.3 808.6,1362.8 808.9,1356.8 809.3,1361.7 809.6,1352.9 810.0,1362.6 810.4,1347.9 810.8,1350.6 811.1,1341.3 811.6,1362.6 812.0,1343.2 812.4,1362.4 812.7,1345.3 813.1,1347.1 813.5,1348.3 813.9,1349.1 814.2,1351.8 814.6,1356.6 814.9,1358.6 815.3,1361.6 815.7,1361.9 816.1,1363.2 825.2,1363.2 826.0,1351.4 827.2,1336.3 828.2,1322.6 829.0,1318.9 829.4,1318.9 829.8,1321.9 830.1,1319.2 830.5,1328.3 830.9,1324.0 831.3,1326.1 831.6,1319.5 832.0,1327.9 832.4,1324.6 832.8,1322.2 833.2,1318.9 838.1,1318.9 838.8,1325.7 839.9,1333.2 840.8,1355.9 841.9,1336.3 842.2,1336.2 842.6,1331.6 842.9,1336.8 843.3,1326.5 843.7,1330.3 844.1,1329.7 844.5,1335.4 844.9,1336.3 845.6,1363.2 852.5,1363.2 854.0,1359.0 855.5,1355.9 857.0,1351.4 857.7,1336.3 858.5,1318.9 864.6,1318.9 865.0,1336.3 865.6,1363.2 866.0,1363.1 866.4,1362.4 866.8,1358.3 867.2,1357.1 867.6,1362.7 868.0,1351.5 868.3,1356.9 868.7,1350.8 869.1,1358.1 869.5,1351.9 869.8,1362.8 870.2,1351.5 870.6,1354.1 871.0,1350.8 871.3,1356.0 871.7,1352.8 872.1,1357.0 872.5,1347.2 872.9,1348.4 873.3,1347.7 873.7,1352.0 874.1,1339.0 874.5,1356.1 874.8,1346.2 875.2,1357.8 875.5,1353.5 875.9,1359.4 876.3,1358.0 876.7,1362.7 877.0,1362.4 877.4,1362.8 877.8,1357.3 878.2,1361.3 878.5,1355.4 878.9,1356.9 879.3,1356.4 879.7,1361.0 880.1,1351.7 880.5,1353.6 880.9,1355.4 881.3,1362.4 881.6,1357.9 882.0,1362.8 882.4,1360.1 882.7,1363.2 883.1,1362.4 883.5,1363.2 886.5,1363.2 887.7,1357.4 888.1,1356.7 888.4,1357.3 888.8,1354.8 889.2,1354.5 889.6,1346.8 890.0,1348.9 890.3,1352.9 890.7,1354.4 891.0,1343.3 891.4,1353.3 891.8,1352.3 892.2,1342.3 892.5,1347.2 892.9,1350.2 893.2,1334.4 893.6,1337.8 894.0,1326.3 894.4,1324.5 894.8,1318.9 900.1,1318.9 901.3,1324.2 903.1,1321.1 904.6,1318.9 909.9,1318.9 910.4,1336.3 911.0,1360.5 911.4,1359.9 911.8,1353.6 912.2,1359.9 912.6,1357.1 913.0,1351.0 913.3,1355.1 913.7,1357.6 914.1,1349.1 914.5,1361.6 914.9,1352.1 915.2,1355.6 915.6,1357.1 916.0,1362.8 916.4,1354.2 916.7,1362.8 917.1,1353.4 917.5,1355.7 917.8,1353.3 918.2,1362.8 918.6,1353.8 919.0,1358.8 919.4,1353.3 919.8,1362.8 920.2,1355.5 920.5,1362.8 920.9,1361.1 921.3,1362.3 921.6,1357.8 922.0,1359.9 922.3,1358.6 922.6,1362.5 923.0,1358.2 923.3,1362.8 923.6,1357.8 924.0,1360.1 924.3,1361.4 924.7,1362.5 925.1,1357.8 925.4,1357.8 925.8,1354.8 926.2,1352.1 926.6,1349.5 927.0,1348.5 927.3,1343.8 928.5,1328.7 928.9,1327.6 929.3,1322.5 929.6,1325.1 930.0,1320.3 930.4,1327.1 930.7,1321.5 931.1,1328.3 931.5,1331.7 931.9,1331.1 932.3,1319.9 932.6,1324.9 933.0,1319.3 933.4,1322.7 933.8,1320.1 934.1,1318.9 937.2,1318.9 937.9,1333.2 939.4,1345.3 939.8,1347.0 940.2,1352.0 940.6,1349.4 941.0,1361.9 941.3,1349.9 941.7,1361.4 942.1,1349.8 942.5,1359.9 942.8,1359.4 943.2,1357.7 943.6,1358.0 944.0,1361.6 944.4,1361.3 944.7,1362.8 945.1,1362.3 945.5,1362.8 945.9,1361.6 946.2,1362.1 946.6,1360.5 947.0,1359.5 947.4,1359.7 947.8,1362.7 948.1,1360.4 948.5,1362.7 948.9,1358.3 949.3,1356.8 949.7,1354.1 950.0,1351.4 951.2,1336.3 951.6,1331.2 951.9,1332.9 952.3,1319.2 952.7,1336.1 953.1,1320.4 953.4,1330.0 953.8,1322.7 954.2,1341.1 954.6,1338.2 954.9,1354.8 955.3,1327.4 955.7,1344.4 956.1,1328.9 956.5,1339.6 956.8,1329.1 957.2,1331.6 957.6,1337.9 958.0,1326.6 958.4,1330.8 958.7,1331.2 959.1,1322.0 959.5,1330.2 959.9,1320.3 960.2,1326.6 960.6,1320.9 961.0,1319.9 961.4,1319.3 961.8,1320.1 962.1,1318.9 963.3,1328.7 964.4,1340.8 965.5,1351.4 966.7,1363.2 967.1,1361.0 967.5,1360.1 967.9,1361.1 968.2,1347.3 968.6,1362.1 968.9,1356.4 969.3,1356.3 969.7,1358.4 970.1,1341.3 970.5,1352.1 970.8,1361.0 971.2,1344.9 971.6,1357.8 972.0,1351.7 972.3,1356.2 972.7,1354.4 973.1,1362.0 973.5,1356.3 973.8,1362.4 974.2,1357.9 974.5,1362.7 974.8,1361.5 975.2,1362.8 975.5,1361.8 975.8,1363.1 976.2,1362.6 976.5,1363.2 978.0,1359.0 979.5,1354.4 981.0,1348.4 982.6,1336.3 984.1,1322.6 984.8,1318.9 990.1,1318.9 990.5,1322.7 990.9,1334.3 991.3,1334.2 991.6,1336.8 992.0,1332.2 992.4,1340.0 992.8,1342.7 993.1,1330.6 993.5,1328.4 993.9,1338.7 994.3,1331.3 994.7,1341.2 995.0,1334.7 995.4,1355.9 995.8,1333.6 996.2,1338.3 996.6,1328.5 996.9,1345.0 997.3,1336.2 997.7,1342.9 998.1,1329.0 998.4,1331.1 998.8,1324.1 999.2,1331.7 999.6,1320.5 1000.0,1326.4 1000.3,1325.2 1000.7,1330.6 1001.1,1324.2 1001.5,1332.9 1001.8,1319.6 1002.2,1333.4 1002.6,1319.3 1003.0,1329.1 1003.4,1332.9 1003.7,1323.8 1004.1,1321.7 1004.5,1319.9 1004.9,1319.2 1005.2,1323.6 1005.6,1319.2 1006.0,1324.0 1006.4,1324.7 1006.8,1326.4 1007.1,1320.3 1007.5,1322.5 1007.9,1319.0 1008.3,1318.9 1009.0,1328.7 1009.8,1343.8 1010.5,1363.2 1015.8,1363.2 1016.6,1351.4 1018.1,1336.3 1018.5,1334.0 1018.9,1332.9 1019.2,1332.6 1019.6,1328.1 1020.0,1327.0 1020.4,1331.8 1020.8,1329.2 1021.1,1327.8 1021.5,1323.2 1021.9,1324.3 1022.3,1321.6 1022.6,1318.9 1025.7,1318.9 1026.4,1328.7 1027.5,1340.8 1028.7,1351.4 1029.9,1359.7 1031.7,1359.7 1033.2,1355.9 1034.8,1356.7 1036.3,1363.2 1038.5,1362.0 1040.8,1359.0 1041.6,1346.8 1042.6,1357.4 1043.0,1357.0 1043.4,1357.1 1043.8,1351.8 1044.2,1356.8 1044.6,1355.8 1045.0,1357.5 1045.3,1356.4 1045.7,1353.4 1046.1,1348.7 1046.5,1352.2 1046.9,1348.0 1047.3,1351.0 1047.7,1353.2 1048.1,1355.9 1049.1,1359.0 1051.4,1359.7 1052.9,1351.4 1054.4,1340.8 1054.8,1339.0 1055.2,1341.2 1055.6,1337.2 1055.9,1335.8 1056.3,1331.4 1056.7,1329.8 1057.1,1335.9 1057.4,1330.7 1057.8,1329.5 1058.2,1334.4 1058.6,1322.6 1059.0,1331.3 1059.3,1320.8 1059.7,1321.8 1060.0,1318.9 1063.0,1321.1 1064.5,1333.2 1066.1,1345.3 1067.6,1354.4 1069.1,1363.2 1075.9,1363.2 1076.3,1343.8 1076.9,1328.7 1077.9,1318.9 1080.4,1318.9 1080.8,1320.6 1081.2,1323.4 1081.6,1329.2 1081.9,1322.5 1082.3,1333.0 1082.7,1327.4 1083.1,1323.6 1083.5,1324.6 1083.9,1323.9 1084.3,1323.0 1084.6,1324.1 1085.0,1321.5 1085.4,1323.2 1085.7,1322.6 1086.1,1323.4 1086.5,1321.5 1086.9,1325.7 1087.2,1321.6 1087.6,1325.5 1088.0,1321.6 1088.4,1323.4 1088.7,1321.1 1089.1,1322.4 1089.5,1321.1 1089.9,1321.7 1090.3,1321.3 1090.6,1321.2 1091.0,1321.1 1091.4,1321.8 1091.8,1321.1 1092.1,1322.5 1092.5,1321.6 1092.9,1321.7 1093.3,1322.4 1093.7,1322.1 1094.0,1321.5 1094.4,1324.9 1094.8,1321.5 1095.2,1321.6 1095.6,1322.3 1095.9,1326.7 1096.3,1328.7 1097.1,1343.8 1097.8,1354.4 1098.9,1360.5 1099.3,1361.4 1099.7,1359.2 1100.1,1361.7 1100.5,1357.0 1100.8,1362.8 1101.2,1355.5 1101.6,1362.3 1102.0,1354.0 1102.4,1362.8 1102.7,1358.4 1103.1,1356.7 1103.5,1351.8 1103.9,1355.4 1104.3,1351.8 1104.6,1361.2 1105.0,1353.9 1105.4,1362.8 1105.8,1356.4 1106.1,1362.6 1106.5,1357.2 1106.9,1359.5 1107.3,1360.2 1107.7,1362.5 1108.0,1358.5 1108.4,1362.8 1108.8,1360.2 1109.2,1359.6 1109.5,1358.3 1109.9,1362.3 1110.3,1358.8 1110.7,1361.2 1111.1,1359.3 1111.4,1351.8 1111.8,1353.8 1112.2,1350.5 1112.6,1346.0 1113.0,1346.8 1113.3,1335.2 1113.7,1344.2 1114.1,1331.8 1114.5,1342.0 1114.8,1339.8 1115.2,1332.4 1115.6,1329.4 1116.0,1330.8 1116.4,1326.1 1116.7,1326.9 1117.1,1324.2 1117.5,1328.4 1117.9,1323.4 1118.2,1323.4 1118.6,1322.9 1119.0,1322.8 1119.4,1323.4 1119.8,1325.3 1120.1,1322.2 1120.5,1324.5 1120.9,1324.1 1121.3,1322.1 1121.6,1321.8 1122.0,1324.2 1122.4,1322.2 1122.8,1324.3 1123.2,1321.6 1123.5,1323.3 1123.9,1323.2 1124.3,1323.8 1124.6,1323.1 1125.0,1327.8 1125.4,1323.5 1125.8,1327.7 1126.2,1330.9 1126.6,1337.4 1126.9,1331.5 1127.3,1336.9 1127.7,1330.8 1128.1,1331.6 1128.5,1331.5 1128.8,1331.9 1129.2,1331.9 1129.6,1333.9 1130.0,1332.9 1130.3,1339.4 1130.7,1334.5 1131.1,1342.0 1131.5,1338.5 1131.9,1346.0 1132.3,1350.2 1132.7,1354.1 1133.0,1350.9 1133.4,1356.3 1133.8,1357.7 1134.1,1356.6 1134.5,1351.4 1134.9,1358.4 1135.3,1351.7 1135.6,1357.1 1136.0,1354.8 1136.4,1356.9 1136.8,1354.6 1137.2,1348.7 1137.5,1354.0 1137.9,1352.2 1138.3,1357.4 1138.7,1357.5 1139.0,1352.6 1139.4,1359.2 1139.8,1359.0 1140.2,1356.8 1140.6,1360.3 1140.9,1356.7 1141.3,1360.0 1141.7,1361.3 1142.1,1353.0 1142.5,1360.1 1142.8,1352.9 1143.2,1355.5 1143.6,1347.5 1144.0,1351.0 1144.3,1348.2 1144.7,1348.0 1145.1,1342.3 1145.5,1345.6 1145.9,1341.2 1146.2,1341.7 1146.6,1341.7 1147.0,1341.8 1147.4,1338.8 1147.7,1336.4 1148.1,1324.2 1148.5,1335.1 1148.9,1321.6 1149.3,1327.8 1149.6,1321.1 1150.0,1331.7 1150.4,1326.0 1150.8,1335.0 1151.1,1330.1 1151.5,1331.1 1151.9,1328.2 1152.3,1334.0 1152.7,1326.4 1153.0,1326.7 1153.4,1326.0 1153.8,1331.6 1154.2,1326.2 1154.6,1329.9 1154.9,1332.9 1155.3,1329.7 1155.7,1328.8 1156.1,1334.2 1156.4,1332.5 1156.8,1331.9 1157.2,1333.9 1157.6,1331.0 1158.0,1329.1 1158.4,1334.9 1158.8,1327.2 1159.2,1334.0 1159.5,1333.0 1159.9,1332.9 1160.3,1330.1 1160.7,1333.8 1161.0,1334.1 1161.4,1336.3 1162.6,1348.4 1163.6,1359.0 1165.9,1359.7 1168.2,1359.7 1170.4,1359.7 1171.6,1351.4 1172.7,1339.3 1173.1,1337.3 1173.5,1336.0 1173.8,1331.8 1174.2,1332.5 1174.6,1329.7 1175.0,1330.3 1175.4,1325.4 1175.7,1326.2 1176.1,1326.9 1176.5,1325.0 1176.9,1320.2 1177.2,1322.3 1177.6,1319.3 1178.0,1320.9 1178.4,1321.5 1178.8,1321.4 1179.1,1319.5 1179.5,1321.1 1179.9,1321.1 1180.3,1320.0 1180.7,1318.9 1181.0,1320.0 1181.4,1320.8 1181.8,1321.1 1182.2,1319.9 1182.5,1321.0 1182.9,1320.8 1183.3,1321.1 1184.4,1328.7 1185.6,1339.3 1186.8,1349.9 1188.3,1359.0 1189.8,1359.7 1190.9,1354.4 1192.4,1346.8 1193.9,1339.3 1195.4,1331.7 1195.8,1330.0 1196.2,1328.1 1196.5,1326.6 1196.9,1326.6 1197.3,1326.1 1197.7,1327.0 1198.0,1325.6 1198.4,1326.8 1198.8,1324.3 1199.2,1326.8 1199.6,1325.4 1199.9,1327.7 1200.3,1326.5 1200.7,1329.6 1201.1,1327.2 1201.5,1332.0 1201.8,1332.5 1202.2,1333.4 1202.5,1336.3 1203.7,1346.8 1205.2,1359.7 1207.5,1363.2 1209.8,1363.2 1211.3,1357.4 1211.7,1355.9 1212.0,1354.4 1212.4,1352.3 1212.8,1349.9 1213.2,1350.4 1213.6,1348.8 1213.9,1350.2 1214.3,1349.1 1214.7,1350.2 1215.1,1349.8 1215.4,1348.7 1215.8,1349.4 1216.2,1349.9 1216.6,1347.8 1217.0,1347.5 1217.3,1345.7 1217.7,1344.9 1218.1,1344.8 1218.5,1344.1 1218.9,1343.7 1219.2,1342.7 1219.6,1343.0 1220.0,1343.4 1220.4,1342.4 1220.7,1340.4 1221.1,1339.8 1221.5,1341.2 1221.9,1338.6 1222.3,1337.7 1222.6,1336.2 1223.0,1337.0 1223.4,1333.6 1223.8,1334.5 1224.1,1332.1 1224.5,1333.3 1224.9,1330.2 1225.3,1330.4 1225.7,1328.9 1226.0,1329.6 1226.4,1326.8 1226.8,1326.7 1227.2,1323.8 1227.5,1324.7 1227.9,1321.1 1228.3,1322.3 1228.7,1321.1 1229.1,1319.9 1229.4,1318.9 1230.7,1321.1 1231.7,1328.7 1233.2,1336.3 1234.7,1345.3 1236.2,1359.7 1241.5,1359.7 1242.3,1354.4 1243.8,1346.8 1245.3,1339.3 1246.8,1331.7 1248.4,1325.7 1249.9,1318.9 1253.6,1318.9 1254.4,1321.1 1255.9,1324.2 1257.4,1327.2 1259.7,1331.0 1261.2,1334.7 1262.7,1339.3 1264.2,1343.1 1266.5,1344.6 1268.8,1343.1 1271.0,1343.1 1273.3,1342.3 1274.8,1340.0 1276.3,1337.8 1278.6,1337.0 1280.1,1337.8 1281.6,1340.0 1283.1,1343.1 1284.7,1347.6 1286.2,1349.9 1288.4,1350.6 1290.7,1350.6 1292.2,1349.9 1293.7,1346.8 1295.2,1343.1 1296.8,1340.0 1298.3,1337.8 1299.8,1336.3 1301.3,1337.0 1302.8,1338.5 1305.1,1337.8 1306.6,1337.0 1308.1,1340.0 1309.6,1343.8 1311.1,1343.1 1312.6,1341.6 1315.7,1340.8 1318.7,1340.0 1321.0,1338.5 1322.5,1337.0 1324.0,1338.5 1325.5,1341.6 1327.0,1344.6 1328.5,1347.6 1330.0,1350.6 1331.6,1352.9 1333.1,1354.1 1334.6,1351.4 1336.1,1345.3 1337.6,1336.3 1339.1,1331.7 1340.6,1329.4 1342.1,1328.7 1343.7,1330.2 1345.2,1334.0 1346.7,1339.3 1348.7,1343.8"/>
<use href="#d21" x="0.9"/>
<polyline id="d02" stroke="#000" stroke-width="1.2" stroke-linejoin="bevel" points="1349.1,302.4 1353.1,313.7 1357.5,312.9 1361.0,312.0 1363.6,300.6 1365.4,307.6 1368.0,360.2 1369.8,388.2 1371.2,377.7 1373.3,307.6 1375.0,356.7 1376.4,360.2 1377.7,365.4 1378.9,307.6 1380.6,211.3 1382.0,181.5 1383.8,193.8 1385.5,222.7 1387.3,172.8 1389.0,169.3 1390.8,188.5 1392.5,255.1 1395.2,342.6 1396.9,412.7 1398.7,442.5 1401.3,437.2 1403.0,442.5 1404.8,395.2 1406.5,325.1 1408.3,255.1 1410.1,185.0 1411.8,166.6 1416.2,166.6 1417.1,176.3 1419.7,211.3 1420.9,197.3 1421.4,272.6 1424.1,374.2 1426.7,423.2 1428.4,428.5 1429.7,414.4 1431.1,442.5 1434.6,442.5 1435.4,377.7 1436.3,272.6 1437.2,193.8 1438.1,166.4 1442.1,166.4 1442.5,257.6 1442.8,167.0 1443.2,195.8 1443.6,166.5 1444.0,241.2 1444.3,232.7 1444.7,251.6 1445.1,184.4 1445.4,226.7 1445.8,166.5 1446.1,246.2 1446.5,201.7 1446.8,244.3 1447.2,205.6 1447.5,257.3 1447.9,168.7 1448.2,260.2 1448.6,182.7 1448.9,184.6 1449.3,191.7 1449.6,215.6 1450.0,175.0 1450.3,222.4 1450.7,166.7 1451.0,270.8 1451.4,206.2 1451.7,230.1 1452.1,178.6 1452.4,281.7 1452.8,170.2 1453.1,281.6 1453.5,170.8 1453.8,216.7 1454.2,168.3 1454.5,198.9 1454.9,253.5 1455.2,288.8 1455.6,176.3 1455.9,271.8 1456.3,167.5 1456.6,281.3 1457.0,267.9 1457.3,298.1 1457.7,203.8 1458.0,300.4 1458.4,206.2 1458.7,209.9 1459.1,184.1 1459.4,303.8 1459.8,188.2 1460.1,282.4 1460.5,193.3 1460.8,307.1 1461.2,215.3 1461.7,220.7 1462.1,209.5 1462.4,322.2 1462.8,245.0 1463.1,321.9 1463.5,243.6 1463.8,316.8 1464.2,257.8 1464.5,249.8 1464.9,248.5 1465.2,309.8 1465.6,280.5 1465.9,341.8 1466.3,273.8 1466.6,277.5 1467.0,368.1 1467.3,373.5 1467.7,331.5 1468.0,317.3 1468.4,318.4 1468.7,375.6 1469.1,336.0 1469.4,401.7 1469.8,376.6 1470.1,404.6 1470.5,401.1 1470.9,429.2 1471.3,392.6 1471.7,410.3 1472.0,407.0 1472.4,436.2 1472.7,399.9 1473.1,397.2 1473.5,406.6 1473.8,442.1 1474.2,429.3 1474.5,440.3 1474.9,408.6 1475.3,441.4 1475.7,401.2 1476.1,439.7 1476.5,398.5 1476.9,429.4 1477.2,401.5 1477.6,421.2 1478.0,404.3 1478.4,408.3 1478.7,397.7 1479.1,371.7 1479.6,322.0 1480.1,330.5 1480.5,271.7 1480.8,326.2 1481.2,219.7 1481.5,225.3 1481.9,222.6 1482.3,337.9 1482.7,303.0 1483.2,342.1 1483.6,252.0 1484.0,354.7 1484.3,298.5 1484.7,351.5 1485.0,185.4 1485.4,186.0 1485.8,175.0 1486.2,177.8 1486.7,191.9 1487.1,166.4 1492.4,166.4 1493.2,202.5 1495.0,258.6 1496.7,325.1 1497.2,329.9 1497.6,433.3 1498.0,337.6 1498.3,421.3 1498.7,363.9 1499.0,348.4 1499.4,348.4 1499.7,426.2 1500.1,368.0 1500.4,434.0 1500.8,357.1 1501.1,424.4 1501.5,394.5 1501.8,442.1 1502.2,380.0 1502.5,415.0 1502.9,409.9 1503.2,436.8 1503.6,425.0 1503.9,441.5 1504.3,404.9 1504.6,409.4 1505.0,423.0 1505.4,430.6 1505.7,366.9 1506.1,442.1 1506.5,375.1 1506.9,441.2 1507.3,378.9 1507.7,442.0 1508.1,396.4 1508.5,440.1 1508.8,351.8 1509.2,441.2 1509.5,378.8 1509.9,428.0 1510.3,385.8 1510.6,441.5 1511.0,394.0 1511.4,395.2 1511.8,400.7 1512.1,400.2 1512.5,395.5 1512.9,398.1 1513.2,430.8 1513.6,433.6 1513.9,409.9 1514.3,434.6 1514.7,405.7 1515.1,377.7 1516.9,290.1 1518.6,202.5 1519.0,195.1 1519.3,191.7 1519.7,176.2 1520.0,176.8 1520.4,175.2 1520.7,189.3 1521.1,176.4 1521.4,190.5 1521.8,171.1 1522.1,188.7 1522.5,168.5 1522.8,193.7 1523.2,175.0 1523.5,183.5 1523.9,177.3 1524.3,199.2 1524.8,210.3 1525.1,222.8 1525.5,230.9 1525.8,240.7 1526.2,245.7 1526.5,255.1 1528.3,307.6 1529.1,377.7 1530.0,442.5 1531.8,421.5 1533.5,442.5 1533.9,436.3 1534.3,440.3 1534.7,413.1 1535.3,441.2 1535.6,389.3 1536.0,441.3 1536.4,369.3 1536.8,437.2 1537.1,379.5 1537.5,427.8 1537.9,369.3 1538.3,404.5 1538.6,373.5 1539.0,403.6 1539.4,369.3 1539.8,377.7 1540.2,387.8 1540.5,373.7 1541.0,440.0 1541.4,413.2 1541.8,395.7 1542.1,439.1 1542.5,396.6 1542.8,417.7 1543.2,396.2 1543.6,441.3 1544.0,404.4 1544.4,442.0 1544.8,436.3 1545.2,406.6 1545.5,407.2 1545.9,424.8 1546.3,409.5 1546.7,435.1 1547.1,392.6 1547.5,377.7 1549.3,325.1 1550.2,395.2 1551.4,290.1 1552.3,202.5 1552.8,167.9 1553.1,222.6 1553.5,176.1 1553.8,215.1 1554.2,171.8 1554.5,172.2 1554.9,166.5 1555.3,214.8 1555.7,195.7 1556.0,222.4 1556.4,168.1 1556.8,188.1 1557.2,184.7 1557.5,239.9 1557.9,166.5 1558.2,253.7 1558.6,170.8 1558.9,213.0 1559.3,269.9 1559.6,222.4 1560.0,259.1 1560.3,195.9 1560.7,255.0 1561.1,204.4 1561.5,268.7 1561.9,280.2 1562.4,219.8 1562.8,288.2 1563.1,251.5 1563.5,289.6 1563.8,252.3 1564.2,274.6 1564.5,264.6 1564.9,315.1 1565.2,270.4 1565.6,317.8 1565.9,297.7 1566.3,345.7 1566.6,296.7 1567.0,360.6 1567.3,296.2 1567.7,356.1 1568.0,291.9 1568.4,352.0 1568.7,293.6 1569.1,341.4 1569.4,322.7 1569.8,376.5 1570.1,317.8 1570.5,368.1 1570.8,303.4 1571.2,348.2 1571.6,335.5 1572.0,322.2 1572.4,333.7 1572.7,378.9 1573.1,305.5 1573.5,372.8 1573.8,278.2 1574.2,360.2 1574.5,293.0 1574.9,313.1 1575.2,283.3 1575.6,324.4 1576.0,296.4 1576.4,374.2 1576.8,311.5 1577.1,355.9 1577.5,296.6 1577.8,357.1 1578.2,287.0 1578.5,296.8 1578.9,280.0 1579.2,345.3 1579.6,273.6 1580.0,342.1 1580.4,308.0 1580.8,247.9 1581.2,275.8 1581.5,330.2 1581.9,311.4 1582.2,318.8 1582.6,236.7 1583.0,298.0 1583.4,242.3 1583.8,338.7 1584.1,252.5 1584.5,346.1 1584.8,274.0 1585.2,336.8 1585.5,335.7 1585.9,343.2 1586.2,279.9 1586.6,334.0 1587.0,282.3 1587.4,354.9 1587.8,342.0 1588.2,342.9 1588.5,357.8 1588.9,346.2 1589.2,327.3 1589.6,385.7 1590.0,343.4 1590.4,380.7 1590.8,346.6 1591.1,413.7 1591.5,386.6 1591.8,426.8 1592.2,381.3 1592.5,419.4 1592.9,418.5 1593.2,425.5 1593.6,369.9 1594.0,394.2 1594.4,389.2 1594.8,412.3 1595.2,360.7 1595.6,388.2 1596.0,336.1 1596.4,326.2 1596.7,304.5 1597.1,337.2 1597.4,297.9 1597.8,311.0 1598.1,289.1 1598.5,242.4 1598.8,280.2 1599.2,261.6 1599.5,229.3 1599.9,287.6 1600.2,252.8 1600.6,278.5 1601.0,218.8 1601.4,260.1 1601.8,271.0 1602.3,262.7 1602.7,261.9 1603.0,222.8 1603.4,215.2 1603.7,269.8 1604.1,257.5 1604.4,241.0 1604.8,270.2 1605.1,276.7 1605.5,232.5 1605.8,238.1 1606.2,246.9 1606.5,271.0 1606.9,284.2 1607.3,287.7 1607.6,271.2 1608.0,287.5 1608.4,297.1 1608.8,307.6 1610.6,377.7 1613.2,412.7 1615.8,442.5 1618.5,442.5 1620.2,360.2 1622.0,255.1 1622.3,246.7 1622.7,240.5 1623.0,224.0 1623.4,226.1 1623.7,202.9 1624.1,214.9 1624.4,202.4 1624.8,207.7 1625.1,205.6 1625.5,205.7 1625.8,169.6 1626.2,205.5 1626.5,177.3 1626.9,205.1 1627.2,181.1 1627.6,199.4 1627.9,178.5 1628.3,183.4 1628.6,191.2 1629.0,178.5 1629.3,179.3 1629.7,216.4 1630.0,221.0 1630.4,226.4 1630.7,210.8 1631.1,245.3 1631.4,226.7 1631.8,251.2 1632.2,264.3 1632.6,324.6 1633.1,344.8 1633.5,364.0 1633.9,307.7 1634.3,357.6 1634.7,368.6 1635.1,368.7 1635.4,306.2 1635.8,363.3 1636.1,304.5 1636.5,348.8 1636.8,308.4 1637.2,324.0 1637.5,308.1 1637.9,356.3 1638.2,313.0 1638.6,347.0 1638.9,306.6 1639.3,337.4 1639.6,303.1 1640.1,307.6 1640.5,299.1 1640.9,286.9 1641.4,255.8 1641.8,268.1 1642.2,258.1 1642.6,253.0 1643.0,202.5 1643.3,233.3 1643.7,192.3 1644.0,263.5 1644.4,181.7 1644.7,205.3 1645.1,204.4 1645.4,237.5 1645.8,182.4 1646.1,206.7 1646.5,166.9 1646.8,202.4 1647.2,189.7 1647.5,174.1 1647.9,166.5 1648.2,206.1 1648.6,175.3 1648.9,184.2 1649.3,170.1 1649.6,200.0 1650.0,205.0 1650.3,212.4 1650.7,186.2 1651.1,189.4 1651.5,181.3 1651.9,184.1 1652.3,200.3 1652.8,249.6 1653.2,236.4 1653.6,262.9 1654.1,263.2 1654.5,276.9 1654.9,262.9 1655.2,272.6 1655.6,285.5 1655.9,289.1 1656.3,265.1 1656.6,310.2 1657.0,269.2 1657.3,320.4 1657.7,317.3 1658.0,333.4 1658.4,346.6 1658.9,357.4 1659.3,322.0 1659.7,328.7 1660.1,322.1 1660.5,363.3 1660.8,304.5 1661.2,381.3 1661.5,312.9 1661.9,316.6 1662.2,383.8 1662.6,311.8 1662.9,373.5 1663.3,376.3 1663.6,301.6 1664.0,373.4 1664.3,300.4 1664.7,375.6 1665.0,317.5 1665.4,374.3 1665.7,314.8 1666.1,368.4 1666.4,287.0 1666.8,287.4 1667.1,280.5 1667.5,305.6 1667.8,296.4 1668.2,341.8 1668.6,288.1 1669.0,340.0 1669.4,359.1 1669.8,382.1 1670.2,329.5 1670.6,371.9 1671.0,336.1 1671.3,366.4 1671.7,338.7 1672.0,376.4 1672.4,319.2 1672.7,319.9 1673.1,287.8 1673.4,318.1 1673.8,281.8 1674.2,297.6 1674.7,250.2 1675.1,275.8 1675.5,253.7 1675.9,246.4 1676.2,229.2 1676.6,251.7 1676.9,233.0 1677.3,246.8 1677.8,222.4 1678.2,238.9 1678.6,219.7 1679.0,226.3 1679.4,220.7 1679.7,213.1 1680.1,174.9 1680.4,216.3 1680.8,189.6 1681.1,214.0 1681.5,209.9 1681.8,195.9 1682.2,190.3 1682.5,212.2 1683.0,166.5 1683.4,187.5 1683.9,195.5 1684.3,278.5 1684.7,233.7 1685.2,283.6 1685.6,271.7 1686.0,312.5 1686.4,296.1 1686.7,298.0 1687.1,316.0 1687.4,350.9 1687.8,305.1 1688.1,314.4 1688.5,299.5 1688.8,339.6 1689.2,354.5 1689.5,303.5 1690.0,298.5 1690.4,332.0 1690.8,318.9 1691.1,327.6 1691.5,294.0 1691.8,354.2 1692.2,298.8 1692.5,315.9 1692.9,292.5 1693.2,358.9 1693.6,277.0 1694.0,313.3 1694.4,351.3 1694.8,362.7 1695.1,281.8 1695.5,315.0 1695.8,318.6 1696.2,322.5 1696.6,271.9 1697.0,328.0 1697.4,254.2 1697.8,298.2 1698.1,260.9 1698.5,330.8 1698.8,317.5 1699.2,324.7 1699.6,310.2 1699.9,309.9 1700.3,294.7 1700.7,340.9 1701.1,296.6 1701.4,331.0 1701.8,355.6 1702.2,336.6 1702.5,321.1 1702.9,361.9 1703.2,331.7 1703.6,361.4 1703.9,335.8 1704.3,381.7 1704.6,353.6 1705.0,383.6 1705.3,384.5 1705.7,353.7 1706.1,291.0 1706.5,386.1 1706.9,301.4 1707.2,400.3 1707.6,293.1 1707.9,377.5 1708.4,341.9 1708.8,367.7 1709.2,284.0 1709.5,299.9 1709.9,259.4 1710.2,329.1 1710.6,291.2 1711.0,305.5 1711.4,287.5 1711.8,298.4 1712.1,235.9 1712.5,294.1 1712.8,245.5 1713.2,294.0 1713.5,235.7 1713.9,289.5 1714.2,279.8 1714.6,235.2 1714.9,243.0 1715.3,293.0 1715.6,231.3 1716.0,291.9 1716.3,201.6 1716.7,238.5 1717.0,205.5 1717.4,288.2 1717.7,258.6 1718.1,287.7 1718.5,220.1 1718.9,309.6 1719.3,293.9 1719.7,288.0 1720.0,221.2 1720.4,312.9 1720.7,288.2 1721.1,293.0 1721.4,266.2 1721.8,277.7 1722.2,259.7 1722.6,293.2 1722.9,253.1 1723.3,303.1 1723.7,267.4 1724.1,309.7 1724.5,258.9 1724.9,314.0 1725.3,252.1 1725.6,262.0 1726.0,257.3 1726.3,287.4 1726.7,261.4 1727.0,320.1 1727.4,280.6 1727.7,292.6 1728.1,337.9 1728.4,360.8 1728.8,351.1 1729.1,321.5 1729.5,317.0 1729.8,373.3 1730.2,321.7 1730.6,379.4 1731.0,322.5 1731.3,384.8 1731.7,324.0 1732.1,384.5 1732.5,316.7 1732.9,370.7 1733.3,350.5 1733.7,339.8 1734.0,293.1 1734.4,328.0 1734.7,287.8 1735.2,295.0 1735.6,260.8 1736.0,317.0 1736.4,233.0 1736.8,225.6 1737.3,221.9 1737.7,237.2 1738.1,221.5 1738.4,288.9 1738.8,221.7 1739.1,288.3 1739.5,262.1 1739.8,284.0 1740.2,233.7 1740.5,276.5 1740.9,221.6 1741.2,242.7 1741.6,222.0 1742.0,275.5 1742.4,232.2 1742.8,283.5 1743.1,206.0 1743.5,260.6 1743.8,269.1 1744.2,263.1 1744.5,260.0 1744.9,247.9 1745.2,304.1 1745.6,306.1 1745.9,249.3 1746.3,312.9 1746.6,267.3 1747.0,308.4 1747.3,274.2 1747.7,340.1 1748.0,269.0 1748.4,335.6 1748.7,296.6 1749.1,306.8 1749.5,277.8 1749.8,327.8 1750.2,292.5 1750.6,322.0 1751.0,271.3 1751.4,329.0 1751.7,329.8 1752.1,322.5 1752.4,274.4 1752.8,330.1 1753.1,276.9 1753.5,323.2 1753.8,277.4 1754.2,300.7 1754.5,274.2 1754.9,306.2 1755.2,287.6 1755.6,311.9 1755.9,286.7 1756.3,300.9 1756.6,243.3 1757.0,255.5 1757.3,233.9 1757.7,285.1 1758.0,237.6 1758.4,238.7 1758.7,278.7 1759.1,283.2 1759.4,250.5 1759.8,255.7 1760.1,246.9 1760.5,287.3 1760.8,246.7 1761.2,306.5 1761.5,259.6 1761.9,323.4 1762.2,298.4 1762.6,317.5 1762.9,274.4 1763.3,284.3 1763.6,332.4 1764.0,329.3 1764.4,274.8 1764.9,283.4 1765.2,290.1 1765.6,304.0 1765.9,278.5 1766.3,309.9 1766.6,292.3 1767.0,336.0 1767.3,288.4 1767.7,342.7 1768.0,291.1 1768.4,350.8 1768.7,337.6 1769.1,343.1 1769.4,288.3 1769.8,344.2 1770.1,285.2 1770.5,339.3 1770.8,298.5 1771.2,349.2 1771.5,309.6 1771.9,350.9 1772.2,308.0 1772.6,333.0 1772.9,275.7 1773.3,306.7 1773.6,277.7 1774.0,289.1 1774.3,257.3 1774.7,286.8 1775.0,272.7 1775.4,284.7 1775.8,288.9 1776.2,267.8 1776.6,227.9 1776.9,237.3 1777.3,236.2 1777.6,295.6 1778.0,248.6 1778.3,292.9 1778.7,253.5 1779.0,289.7 1779.4,264.5 1779.7,287.4 1780.1,255.4 1780.6,273.5 1781.0,280.9 1781.3,249.2 1781.7,251.2 1782.0,289.0 1782.4,292.4 1782.7,272.5 1783.1,288.4 1783.4,301.5 1783.8,270.8 1784.1,303.6 1784.5,283.3 1784.8,320.1 1785.2,328.8 1785.5,336.7 1785.9,321.6 1786.2,349.7 1786.6,333.6 1786.9,356.2 1787.3,326.0 1787.6,377.3 1788.0,350.9 1788.4,346.4 1788.8,328.8 1789.3,374.4 1789.7,325.6 1790.1,354.4 1790.4,334.8 1790.8,331.3 1791.1,338.0 1791.5,346.3 1791.8,319.1 1792.2,309.6 1792.5,332.2 1792.9,330.1 1793.3,267.3 1793.7,307.0 1794.1,255.1 1794.4,267.9 1794.8,283.3 1795.1,275.1 1795.5,262.8 1795.8,264.1 1796.2,257.1 1796.5,264.6 1796.9,262.3 1797.3,261.1 1797.7,248.5 1798.1,259.4 1798.5,253.7 1798.8,250.6 1799.2,251.6 1799.5,244.7 1799.9,229.8 1800.2,257.7 1800.6,237.8 1800.9,247.6 1801.3,244.6 1801.6,264.5 1802.0,256.3 1802.3,263.7 1802.7,256.8 1803.0,270.8 1803.4,262.5 1803.7,280.6 1804.1,267.9 1804.4,298.5 1804.8,290.5 1805.2,308.4 1805.6,301.8 1806.0,323.6 1806.4,322.6 1806.7,334.9 1807.1,331.0 1807.4,344.2 1807.8,319.8 1808.1,340.6 1808.5,324.8 1808.8,338.7 1809.2,325.5 1809.5,342.3 1809.9,316.3 1810.2,331.1 1810.6,315.8 1810.9,328.2 1811.3,314.8 1811.6,321.3 1812.0,301.0 1812.3,314.3 1812.7,309.9 1813.0,307.1 1813.4,291.5 1813.7,296.8 1814.1,279.3 1814.4,285.9 1814.8,268.6 1815.1,270.3 1815.5,264.6 1815.8,267.7 1816.2,259.7 1816.5,263.5 1816.9,251.2 1817.2,261.1 1817.6,251.2 1817.9,254.2 1818.3,248.4 1818.6,257.4 1819.0,244.9 1819.4,255.5 1819.8,235.8 1820.2,254.5 1820.5,229.5 1820.9,256.5 1821.2,250.0 1821.6,258.9 1821.9,250.2 1822.3,263.0 1822.7,260.1 1823.1,260.9 1823.5,255.4 1823.9,290.8 1824.3,298.3 1824.7,300.5 1825.1,293.2 1825.4,305.5 1825.8,305.3 1826.1,324.5 1826.6,302.8 1827.0,321.8 1827.4,287.7 1827.8,305.6 1828.2,317.0 1828.6,331.3 1828.9,298.4 1829.3,321.8 1829.6,299.2 1830.0,323.9 1830.4,324.1 1830.7,325.6 1831.1,309.4 1831.4,310.6 1831.8,318.2 1832.1,302.1 1832.5,294.9 1832.8,290.5 1833.2,292.4 1833.6,314.3 1834.0,291.6 1834.4,300.8 1834.7,297.8 1835.1,309.2 1835.4,297.5 1835.8,308.1 1836.1,300.8 1836.5,317.6 1836.8,307.8 1837.2,324.0 1837.5,299.2 1837.9,304.9 1838.3,305.1 1838.8,316.8 1839.1,315.8 1839.5,320.9 1839.8,306.6 1840.2,317.3 1840.5,299.5 1840.9,303.6 1841.2,306.0 1841.6,305.6 1841.9,300.7 1842.3,309.9 1842.6,302.1 1843.0,294.2 1843.3,291.3 1843.7,300.2 1844.0,287.8 1844.4,287.6 1844.7,290.0 1845.1,295.0 1845.4,287.9 1845.8,290.5 1846.1,284.7 1846.5,291.3 1846.8,291.9 1847.2,289.6 1847.5,277.2 1847.9,268.0 1848.2,267.6 1848.6,268.4 1849.0,249.4 1849.4,250.9 1849.8,241.4 1850.1,248.9 1850.5,225.7 1850.8,251.1 1851.2,227.0 1851.5,233.3 1851.9,219.2 1852.2,249.4 1852.6,233.4 1852.9,241.8 1853.3,235.7 1853.6,251.8 1854.0,248.9 1854.3,247.9 1854.7,250.4 1855.0,261.6 1855.5,249.3 1855.9,280.2 1856.3,262.4 1856.6,271.5 1857.0,276.7 1857.4,301.0 1857.8,296.8 1858.2,302.8 1858.5,304.1 1860.3,328.6 1862.9,333.9 1863.3,337.3 1863.6,339.2 1864.0,345.1 1864.3,346.0 1864.7,348.3 1865.1,354.3 1865.6,363.3 1866.0,349.4 1866.4,354.0 1866.8,343.0 1867.1,339.5 1867.5,339.8 1867.8,323.7 1868.2,336.7 1868.6,319.9 1869.1,314.6 1871.7,307.6 1875.2,272.6 1875.5,270.8 1875.9,269.4 1876.2,270.1 1876.6,258.9 1876.9,255.9 1877.3,251.1 1877.6,250.4 1878.0,243.8 1878.3,257.7 1878.7,239.6 1879.0,243.4 1879.4,244.2 1879.7,255.4 1880.1,248.3 1880.4,256.1 1880.8,253.3 1881.1,259.2 1881.5,259.1 1881.8,263.2 1882.2,254.7 1882.6,256.3 1882.9,272.0 1883.3,271.8 1883.7,265.3 1884.1,275.0 1884.4,272.1 1884.8,282.3 1885.2,282.0 1885.6,284.6 1885.9,287.9 1886.3,285.4 1886.7,287.6 1887.1,276.4 1887.4,273.7 1887.8,296.4 1888.1,281.6 1888.5,294.2 1888.8,281.2 1889.2,300.7 1889.5,287.2 1889.9,308.1 1890.2,298.1 1890.6,311.8 1891.0,304.4 1891.5,310.1 1891.9,299.7 1892.3,302.7 1892.7,296.6 1893.1,302.5 1893.6,286.0 1893.9,301.6 1894.3,290.1 1894.7,288.7 1895.1,300.6 1895.4,290.9 1895.8,300.4 1896.2,297.0 1896.5,283.9 1896.9,281.9 1897.3,287.9 1897.6,300.6 1898.0,293.4 1898.3,294.9 1898.7,293.5 1899.1,297.8 1899.5,287.2 1899.8,294.7 1900.2,287.4 1900.6,287.7 1901.0,281.5 1901.4,289.1 1901.8,291.7 1902.2,292.8 1902.5,283.9 1902.9,281.0 1903.2,269.9 1903.6,286.7 1904.0,272.9 1904.3,287.6 1904.7,272.9 1905.1,286.2 1905.5,279.4 1905.8,278.7 1906.2,281.2 1906.6,284.6 1907.0,281.5 1907.3,292.8 1907.7,280.9 1908.1,294.2 1908.5,285.3 1908.8,296.8 1909.2,289.3 1909.5,301.5 1909.9,288.7 1910.2,306.9 1910.6,305.4 1910.9,306.9 1911.3,301.1 1911.6,307.8 1912.0,302.3 1912.3,310.5 1912.7,315.3 1913.0,317.9 1913.4,319.5 1913.8,324.6 1914.2,314.8 1914.6,326.5 1914.9,316.8 1915.3,325.1 1915.6,314.3 1916.0,322.4 1916.3,314.0 1916.7,321.8 1917.0,312.2 1917.4,312.0 1917.7,311.2 1918.1,314.4 1918.5,316.2 1918.8,311.5 1919.2,312.0 1919.6,307.6 1920.0,305.6 1920.3,305.7 1920.7,307.2 1921.1,303.7 1921.4,294.6 1921.8,300.2 1922.1,292.2 1922.5,300.3 1922.8,295.4"/>
<use href="#d02" x="0.9"/>
<polyline id="d12" stroke="#000" stroke-width="1.2" stroke-linejoin="bevel" points="1349.1,831.7 1353.1,831.7 1357.5,830.9 1361.0,829.1 1363.6,818.6 1365.4,825.6 1367.1,860.6 1368.9,886.9 1369.8,906.2 1371.2,886.9 1372.4,860.6 1373.3,854.5 1374.2,878.2 1375.9,901.8 1377.1,886.9 1378.2,843.1 1378.9,790.6 1379.9,729.3 1381.2,679.6 1382.0,679.6 1382.9,720.5 1384.7,745.1 1385.9,694.3 1387.3,679.6 1388.7,685.5 1389.9,720.5 1391.7,773.1 1393.4,843.1 1395.2,913.2 1396.9,965.7 1399.5,965.7 1400.4,952.6 1402.2,960.5 1403.4,957.0 1404.4,913.2 1405.7,878.2 1407.4,808.1 1409.2,738.1 1410.4,694.3 1411.5,679.6 1415.3,679.6 1415.7,684.9 1416.2,683.9 1416.5,701.2 1416.9,684.5 1417.2,683.6 1417.6,685.8 1417.9,716.5 1418.3,691.0 1418.6,724.2 1419.0,700.2 1419.3,732.5 1419.7,707.0 1420.1,747.5 1420.5,723.9 1420.9,762.8 1421.3,741.3 1421.6,798.9 1422.0,763.3 1422.3,814.7 1422.7,791.4 1423.0,833.2 1423.4,849.6 1423.7,888.3 1424.1,838.4 1424.4,879.6 1424.8,883.5 1425.1,906.2 1425.5,895.9 1425.9,917.9 1426.3,922.8 1426.7,930.7 1427.6,965.7 1431.9,965.7 1432.8,930.7 1434.2,878.2 1435.4,808.1 1436.7,738.1 1437.7,679.6 1439.8,679.6 1440.3,690.1 1440.7,684.2 1441.1,680.7 1441.6,718.8 1442.0,734.8 1442.5,767.4 1442.9,710.2 1443.3,737.4 1443.7,695.9 1444.0,730.6 1444.4,698.9 1444.7,723.7 1445.1,684.9 1445.4,716.1 1445.8,679.9 1446.1,719.8 1446.5,687.9 1446.9,734.2 1447.3,735.3 1447.7,725.6 1448.1,748.5 1448.4,767.6 1448.8,703.7 1449.1,776.7 1449.5,698.4 1449.9,775.1 1450.3,733.2 1450.7,838.1 1451.0,739.0 1451.4,821.5 1451.7,779.1 1452.1,811.3 1452.4,749.5 1452.8,796.1 1453.1,751.0 1453.5,823.4 1453.8,782.1 1454.2,794.4 1454.5,757.5 1454.9,835.7 1455.2,772.4 1455.6,814.9 1455.9,760.1 1456.3,836.4 1456.6,764.5 1457.0,849.6 1457.3,763.8 1457.7,851.5 1458.0,777.3 1458.4,861.7 1458.7,794.6 1459.1,795.7 1459.4,807.1 1459.8,882.1 1460.1,806.1 1460.5,855.9 1460.9,797.9 1461.3,905.9 1461.7,881.0 1462.1,878.8 1462.4,929.1 1462.8,935.1 1463.1,916.5 1463.5,918.9 1463.8,917.9 1464.2,957.6 1464.5,924.1 1464.9,945.9 1465.2,942.4 1465.6,964.7 1465.9,926.0 1466.3,957.4 1466.6,941.5 1467.0,965.1 1467.3,921.6 1467.7,957.6 1468.0,924.6 1468.4,936.4 1468.7,943.9 1469.1,931.2 1469.4,938.5 1469.8,950.7 1470.1,926.3 1470.5,958.4 1470.8,928.3 1471.2,959.2 1471.5,923.0 1471.9,937.4 1472.2,922.6 1472.6,958.0 1472.9,954.5 1473.3,952.5 1473.6,945.1 1474.0,955.3 1474.4,913.1 1474.8,934.0 1475.2,897.7 1475.6,918.9 1475.9,867.9 1476.3,868.5 1476.7,890.9 1477.1,877.7 1477.5,832.3 1477.9,841.0 1478.3,803.4 1478.7,825.3 1479.1,782.7 1479.4,807.5 1479.8,761.3 1480.1,781.7 1480.5,728.8 1480.8,765.3 1481.2,682.3 1481.5,682.6 1481.9,681.9 1482.2,679.6 1485.0,679.6 1485.4,691.7 1485.7,720.1 1486.1,713.5 1486.4,731.7 1486.8,721.2 1487.2,739.4 1487.6,751.1 1488.0,790.2 1488.4,780.3 1488.8,804.0 1489.2,791.8 1489.6,820.8 1489.9,833.6 1490.3,854.0 1490.7,836.2 1491.1,908.5 1491.5,876.8 1491.8,931.3 1492.2,857.9 1492.5,935.5 1492.9,878.5 1493.2,929.6 1493.6,870.4 1493.9,907.9 1494.3,901.6 1494.6,953.2 1495.0,883.5 1495.3,901.7 1495.7,900.7 1496.0,955.5 1496.4,922.5 1496.7,956.9 1497.1,950.7 1497.4,965.2 1497.8,936.7 1498.1,965.4 1498.5,939.9 1498.8,959.7 1499.2,934.3 1499.5,928.7 1499.9,923.5 1500.2,955.3 1500.6,913.9 1500.9,964.3 1501.3,920.3 1501.6,964.2 1502.0,945.5 1502.3,961.1 1502.7,926.0 1503.0,958.0 1503.4,929.6 1503.7,964.9 1504.1,939.2 1504.4,965.3 1504.8,945.0 1505.1,960.5 1505.5,922.3 1505.9,946.0 1506.3,954.8 1506.7,933.0 1507.1,928.1 1507.4,890.1 1507.8,871.8 1508.2,908.9 1508.6,871.1 1509.0,889.0 1509.4,869.3 1509.8,847.7 1510.2,773.4 1510.6,816.4 1510.9,745.0 1511.3,781.5 1511.7,723.7 1512.1,694.3 1512.5,728.1 1512.9,681.7 1513.2,681.3 1513.6,736.0 1513.9,679.8 1514.3,689.3 1514.6,679.7 1515.0,735.9 1515.3,699.4 1515.7,687.1 1516.0,690.7 1516.4,733.6 1516.8,679.7 1517.2,699.6 1517.6,714.7 1517.9,758.2 1518.3,774.3 1518.7,796.4 1519.1,759.3 1519.5,779.3 1519.9,796.8 1520.3,884.5 1520.7,844.3 1521.1,902.6 1521.4,886.6 1521.8,937.9 1522.1,923.8 1522.5,952.1 1522.8,955.3 1523.2,946.3 1523.5,940.2 1523.9,959.2 1524.2,944.1 1524.6,960.6 1524.9,947.7 1525.3,965.1 1525.6,950.3 1526.0,965.4 1526.3,965.0 1526.7,954.1 1527.0,943.8 1527.4,960.2 1527.7,948.2 1528.1,965.2 1528.4,953.7 1528.8,961.0 1529.1,957.3 1529.5,954.2 1529.8,947.3 1530.2,965.2 1530.5,940.8 1530.9,938.9 1531.3,904.6 1531.8,931.7 1532.2,928.2 1532.6,904.7 1533.0,871.7 1533.3,911.4 1533.7,875.3 1534.0,897.5 1534.5,865.6 1534.9,894.0 1535.3,826.0 1535.7,813.7 1536.1,813.9 1536.5,794.9 1536.8,799.3 1537.2,804.4 1537.5,725.8 1537.9,716.1 1538.2,759.1 1538.6,762.2 1538.9,716.9 1539.3,728.8 1539.6,699.9 1540.0,711.9 1540.4,698.8 1540.7,707.0 1541.1,684.4 1541.4,685.9 1541.8,686.9 1542.1,696.4 1542.5,687.3 1542.8,682.3 1543.2,680.5 1543.5,694.1 1543.9,679.8 1544.2,717.9 1544.6,711.3 1544.9,686.3 1545.3,733.8 1545.6,751.2 1546.0,711.2 1546.3,758.2 1546.7,681.4 1547.1,732.5 1547.5,747.3 1548.0,823.4 1548.4,781.2 1548.8,864.3 1549.3,847.4 1549.7,888.0 1550.2,875.5 1550.5,876.7 1550.9,874.8 1551.2,925.1 1551.6,879.2 1551.9,930.3 1552.3,889.0 1552.6,935.9 1553.0,877.6 1553.3,933.7 1553.7,927.5 1554.0,937.4 1554.4,869.8 1554.7,929.2 1555.1,879.4 1555.4,928.6 1555.8,934.9 1556.1,875.0 1556.5,934.2 1556.8,917.0 1557.2,908.9 1557.5,929.8 1557.9,859.2 1558.2,939.4 1558.6,864.4 1558.9,898.2 1559.3,882.5 1559.6,940.8 1560.0,833.0 1560.3,951.2 1560.7,838.4 1561.1,918.9 1561.5,830.1 1561.9,903.9 1562.2,825.0 1562.6,895.9 1562.9,864.5 1563.3,904.0 1563.6,853.6 1564.0,874.5 1564.3,848.1 1564.7,894.4 1565.1,790.2 1565.5,811.9 1565.9,861.9 1566.3,870.3 1566.6,818.6 1567.0,876.1 1567.3,830.8 1567.7,841.4 1568.0,845.9 1568.4,886.5 1568.7,882.7 1569.1,881.4 1569.4,892.3 1569.8,889.2 1570.1,865.9 1570.5,918.4 1570.8,880.7 1571.2,920.8 1571.5,900.5 1571.9,911.3 1572.2,902.5 1572.6,952.6 1572.9,941.7 1573.3,913.4 1573.6,942.1 1574.0,963.6 1574.3,942.6 1574.7,944.9 1575.0,913.3 1575.4,954.1 1575.7,942.7 1576.1,938.0 1576.4,921.1 1576.8,958.7 1577.1,933.5 1577.5,960.5 1577.8,933.8 1578.2,928.5 1578.5,906.5 1578.9,888.7 1579.2,874.5 1579.6,911.0 1580.0,897.4 1580.4,874.8 1580.8,826.0 1581.2,854.4 1581.6,793.6 1582.0,793.6 1582.4,821.2 1582.7,824.1 1583.1,791.0 1583.4,789.0 1583.8,761.8 1584.1,808.0 1584.5,741.5 1584.8,802.6 1585.2,749.0 1585.5,777.9 1585.9,727.2 1586.2,786.1 1586.6,741.2 1587.0,799.2 1587.4,732.0 1587.8,743.5 1588.2,745.1 1588.6,762.0 1589.0,737.9 1589.4,761.3 1589.7,720.9 1590.1,772.4 1590.4,730.0 1590.8,781.8 1591.1,768.9 1591.5,789.2 1591.8,752.4 1592.2,772.0 1592.5,780.9 1592.9,816.1 1593.2,813.5 1593.6,825.5 1594.0,834.7 1594.4,864.4 1594.8,853.6 1595.2,846.9 1595.6,859.4 1596.0,891.7 1596.4,914.7 1596.7,913.5 1597.1,912.6 1597.4,930.3 1597.8,912.7 1598.1,926.1 1598.5,933.5 1598.8,954.6 1599.3,941.5 1599.7,961.6 1600.1,950.6 1600.4,932.9 1600.8,936.8 1601.1,964.0 1601.5,951.3 1601.8,948.9 1602.2,933.4 1602.5,956.6 1602.9,930.6 1603.2,933.5 1603.6,899.5 1604.0,906.1 1604.4,879.6 1604.8,867.6 1605.1,829.8 1605.5,871.5 1605.8,820.1 1606.2,803.1 1606.5,777.5 1606.9,764.4 1607.3,751.1 1607.6,735.8 1608.0,783.8 1608.4,782.0 1608.8,714.0 1609.2,773.6 1609.5,729.7 1609.9,753.9 1610.2,737.4 1610.6,774.7 1611.0,727.3 1611.4,769.1 1611.8,771.8 1612.2,784.3 1612.5,739.9 1612.9,796.5 1613.2,751.5 1613.6,787.0 1613.9,773.8 1614.3,823.8 1614.6,786.4 1615.0,810.3 1615.3,800.6 1615.7,834.1 1616.0,833.5 1616.4,844.4 1616.7,801.5 1617.1,843.4 1617.4,832.6 1617.8,836.4 1618.1,815.9 1618.5,845.7 1618.9,807.3 1619.3,852.2 1619.7,800.9 1620.2,827.6 1620.6,792.8 1620.9,790.7 1621.3,797.4 1621.6,802.2 1622.0,790.4 1622.3,792.8 1622.7,787.2 1623.0,787.5 1623.4,777.9 1623.7,781.6 1624.1,758.7 1624.4,779.9 1624.8,759.2 1625.1,771.7 1625.5,749.9 1625.8,775.5 1626.2,750.2 1626.5,757.5 1626.9,739.7 1627.3,786.1 1627.7,742.3 1628.1,783.0 1628.5,753.2 1628.9,792.3 1629.2,759.5 1629.6,771.9 1630.0,769.9 1630.4,802.0 1630.7,785.6 1631.1,827.6 1631.4,803.6 1631.8,844.7 1632.2,823.1 1632.6,868.4 1633.0,843.6 1633.4,872.8 1633.9,861.0 1634.2,886.8 1634.6,875.0 1634.9,901.8 1635.3,897.8 1635.6,898.6 1636.0,889.5 1636.3,913.9 1636.7,904.0 1637.0,920.2 1637.4,908.2 1637.7,919.5 1638.1,905.3 1638.4,929.1 1638.8,911.0 1639.2,918.1 1639.6,913.6 1640.0,934.2 1640.4,905.0 1640.9,930.3 1641.2,880.6 1641.6,906.4 1641.9,867.5 1642.3,868.8 1642.7,846.0 1643.1,856.9 1643.6,829.3 1644.0,805.8 1644.4,792.7 1644.7,806.0 1645.1,751.2 1645.4,754.0 1645.8,738.5 1646.2,766.3 1646.6,768.5 1647.0,771.8 1647.5,727.6 1647.9,765.0 1648.2,725.0 1648.6,760.6 1648.9,714.7 1649.3,719.3 1649.6,712.5 1650.0,710.7 1650.3,704.3 1650.7,751.3 1651.1,697.4 1651.5,750.7 1651.9,756.9 1652.3,754.4 1652.7,704.7 1653.1,761.3 1653.5,729.0 1653.8,768.3 1654.2,763.0 1654.6,794.8 1655.0,770.1 1655.4,822.4 1655.8,794.3 1656.2,823.5 1656.6,808.8 1657.0,872.9 1657.3,825.1 1657.7,873.9 1658.1,865.2 1658.5,824.2 1658.9,825.4 1659.3,829.7 1659.7,818.0 1660.1,877.9 1660.5,815.9 1660.8,880.3 1661.2,816.7 1661.5,846.3 1661.9,865.5 1662.2,873.8 1662.6,854.8 1662.9,903.1 1663.3,843.6 1663.6,889.8 1664.0,845.8 1664.3,902.6 1664.7,841.2 1665.1,893.6 1665.5,876.5 1665.9,865.6 1666.3,839.2 1666.7,869.7 1667.1,828.2 1667.5,864.4 1667.8,848.4 1668.2,862.4 1668.5,832.7 1668.9,871.6 1669.2,830.0 1669.6,861.9 1669.9,821.5 1670.3,907.7 1670.7,833.8 1671.1,903.9 1671.5,828.3 1671.9,865.1 1672.2,818.6 1672.6,892.7 1672.9,843.3 1673.3,897.8 1673.6,822.8 1674.0,902.3 1674.3,867.5 1674.7,894.4 1675.0,793.5 1675.4,879.2 1675.7,856.3 1676.1,861.0 1676.4,805.9 1676.8,848.2 1677.1,797.9 1677.5,830.1 1677.8,779.0 1678.2,837.4 1678.5,828.9 1678.9,821.4 1679.2,777.3 1679.6,804.0 1679.9,784.8 1680.3,848.0 1680.6,774.4 1681.0,780.6 1681.3,762.5 1681.7,832.6 1682.1,766.3 1682.5,842.6 1682.9,751.5 1683.2,839.2 1683.6,772.7 1683.9,820.3 1684.3,768.1 1684.6,815.3 1685.0,766.0 1685.3,767.3 1685.7,769.0 1686.0,841.8 1686.4,794.2 1686.7,844.0 1687.1,839.5 1687.4,838.5 1687.8,804.7 1688.1,834.7 1688.5,789.1 1688.8,794.0 1689.2,796.3 1689.5,829.6 1689.9,819.2 1690.2,827.2 1690.6,758.0 1690.9,811.9 1691.4,768.6 1691.8,825.3 1692.2,745.4 1692.6,813.4 1693.0,744.0 1693.4,816.8 1693.7,759.0 1694.1,776.7 1694.4,785.9 1694.8,821.5 1695.2,795.6 1695.7,870.2 1696.0,829.9 1696.4,803.6 1696.7,805.7 1697.1,847.5 1697.4,806.0 1697.8,864.2 1698.1,827.9 1698.5,864.2 1698.8,840.9 1699.2,865.4 1699.6,848.5 1700.0,853.6 1700.4,863.9 1700.8,882.9 1701.1,836.7 1701.5,853.4 1701.9,889.6 1702.3,890.2 1702.7,814.1 1703.1,855.7 1703.5,864.8 1703.9,866.7 1704.3,806.7 1704.6,839.0 1705.0,778.2 1705.3,863.8 1705.7,771.5 1706.0,845.3 1706.4,779.9 1706.7,822.5 1707.1,767.0 1707.4,795.9 1707.8,774.9 1708.1,788.7 1708.5,766.5 1708.8,773.8 1709.2,770.4 1709.5,789.3 1709.9,773.2 1710.2,768.7 1710.6,800.8 1710.9,798.5 1711.3,762.9 1711.6,813.4 1712.0,751.6 1712.4,811.8 1712.8,786.3 1713.2,802.6 1713.5,766.7 1713.9,797.6 1714.2,766.6 1714.6,826.3 1714.9,773.1 1715.3,775.7 1715.6,772.1 1716.0,822.1 1716.3,783.6 1716.7,835.8 1717.0,779.2 1717.4,835.4 1717.7,788.7 1718.1,833.9 1718.4,801.7 1718.8,826.8 1719.3,784.8 1719.7,824.7 1720.0,770.8 1720.4,820.9 1720.7,802.7 1721.1,809.0 1721.5,773.1 1721.9,813.5 1722.3,762.9 1722.6,783.9 1723.0,807.7 1723.3,823.9 1723.7,778.4 1724.0,832.9 1724.4,808.8 1724.7,826.9 1725.1,780.0 1725.4,785.2 1725.8,812.9 1726.1,828.7 1726.5,773.5 1726.8,807.0 1727.3,798.5 1727.7,823.2 1728.1,783.8 1728.4,815.5 1728.8,808.8 1729.1,786.6 1729.5,813.1 1729.8,803.0 1730.2,795.0 1730.5,810.7 1730.9,785.2 1731.2,823.1 1731.6,800.5 1731.9,839.6 1732.3,805.0 1732.6,849.9 1733.0,818.3 1733.3,825.8 1733.7,859.6 1734.0,856.3 1734.4,824.2 1734.7,836.1 1735.1,816.1 1735.4,813.3 1735.8,822.9 1736.1,865.7 1736.5,815.2 1736.8,847.0 1737.2,852.1 1737.5,849.7 1737.9,819.0 1738.2,839.4 1738.6,811.7 1738.9,851.5 1739.3,832.3 1739.6,860.2 1740.0,830.8 1740.4,832.8 1740.8,854.1 1741.2,874.3 1741.6,836.1 1742.0,873.1 1742.4,826.1 1742.8,866.8 1743.1,811.5 1743.5,855.6 1743.8,780.9 1744.2,836.3 1744.5,797.0 1744.9,817.4 1745.2,785.5 1745.6,809.4 1746.1,795.5 1746.5,800.8 1746.9,775.5 1747.3,810.7 1747.7,761.6 1748.0,810.7 1748.4,765.5 1748.7,804.9 1749.1,789.9 1749.4,812.7 1749.8,780.1 1750.1,780.8 1750.5,775.3 1750.8,829.2 1751.2,819.1 1751.5,808.0 1751.9,782.3 1752.2,832.2 1752.6,798.6 1752.9,836.1 1753.3,819.5 1753.6,818.9 1754.0,811.3 1754.3,832.4 1754.7,822.9 1755.0,845.6 1755.4,834.3 1755.7,854.2 1756.2,847.0 1756.6,881.3 1757.0,873.5 1757.4,892.1 1757.8,864.2 1758.2,892.7 1758.5,869.2 1758.9,889.0 1759.2,864.1 1759.6,876.1 1759.9,862.0 1760.3,867.0 1760.6,863.1 1761.0,868.7 1761.4,835.8 1761.8,857.0 1762.2,836.4 1762.6,833.6 1763.0,800.3 1763.5,824.5 1763.8,786.7 1764.2,811.9 1764.5,778.7 1764.9,804.4 1765.2,779.4 1765.6,791.8 1765.9,777.9 1766.3,796.7 1766.7,768.3 1767.1,781.1 1767.5,758.9 1767.9,794.8 1768.4,764.7 1768.8,760.5 1769.2,758.0 1769.6,769.0 1769.9,781.5 1770.3,768.2 1770.6,787.0 1771.0,782.7 1771.4,777.1 1771.8,801.6 1772.2,797.7 1772.6,803.9 1772.9,801.4 1773.3,820.2 1773.6,820.1 1774.0,828.6 1774.3,820.9 1774.7,825.0 1775.0,828.0 1775.4,844.6 1775.8,833.2 1776.2,853.9 1776.6,861.5 1777.1,874.3 1777.5,836.0 1777.8,832.7 1778.2,869.2 1778.5,860.2 1778.9,826.1 1779.2,863.1 1779.6,854.5 1779.9,848.5 1780.3,826.2 1780.7,822.1 1781.1,812.0 1781.5,832.5 1781.9,808.7 1782.3,816.5 1782.7,786.5 1783.1,800.5 1783.4,786.8 1783.8,799.2 1784.1,772.9 1784.5,793.3 1784.8,766.9 1785.2,782.4 1785.5,768.0 1785.9,778.2 1786.3,764.6 1786.7,767.9 1787.1,768.7 1787.4,781.5 1787.8,773.1 1788.1,769.3 1788.5,765.6 1788.8,786.1 1789.2,757.4 1789.5,760.0 1789.9,770.3 1790.2,790.1 1790.6,785.3 1790.9,782.7 1791.3,763.2 1791.6,791.6 1792.0,793.1 1792.4,802.2 1792.8,783.5 1793.2,813.3 1793.6,801.6 1793.9,832.0 1794.3,821.9 1794.6,842.7 1795.0,822.5 1795.3,846.5 1795.7,840.1 1796.0,834.0 1796.4,823.7 1796.8,865.4 1797.3,826.7 1797.7,859.0 1798.1,828.3 1798.5,845.1 1798.8,829.2 1799.2,838.2 1799.5,826.9 1799.9,841.7 1800.2,846.5 1800.6,846.9 1800.9,826.0 1801.3,844.1 1801.6,838.6 1802.0,846.6 1802.3,824.5 1802.7,835.2 1803.0,823.3 1803.4,844.0 1803.7,824.6 1804.1,844.7 1804.4,819.8 1804.8,841.4 1805.1,845.4 1805.5,817.0 1805.8,821.0 1806.2,851.7 1806.5,832.5 1806.9,846.6 1807.2,827.6 1807.6,829.8 1807.9,825.4 1808.3,835.5 1808.6,837.1 1809.0,832.1 1809.3,836.9 1809.7,839.2 1810.0,827.5 1810.4,838.9 1810.7,822.8 1811.1,839.6 1811.4,820.2 1811.8,827.9 1812.1,825.4 1812.5,827.4 1812.8,807.9 1813.2,824.9 1813.5,804.2 1813.9,797.9 1814.2,793.9 1814.6,808.7 1814.9,786.1 1815.3,794.9 1815.6,781.9 1816.0,790.4 1816.3,766.4 1816.7,783.0 1817.0,774.1 1817.4,775.3 1817.7,769.6 1818.1,765.2 1818.4,771.5 1818.8,771.0 1819.1,760.5 1819.5,765.6 1819.8,760.0 1820.2,759.6 1820.5,763.2 1820.9,744.1 1821.2,762.3 1821.6,772.3 1821.9,761.2 1822.3,775.7 1822.6,783.4 1823.0,784.6 1823.3,777.8 1823.7,793.8 1824.0,783.3 1824.4,799.2 1824.7,791.6 1825.1,811.6 1825.4,814.1 1825.8,823.9 1826.1,816.9 1826.5,820.5 1826.8,833.5 1827.2,840.6 1827.5,846.3 1827.9,848.7 1828.2,842.8 1828.6,854.5 1828.9,849.4 1829.3,858.9 1829.6,848.7 1830.0,862.8 1830.4,851.2 1830.7,860.7 1831.1,860.2 1831.4,859.8 1831.8,864.7 1832.1,869.5 1832.5,856.9 1832.8,872.1 1833.2,857.3 1833.5,862.8 1833.9,858.9 1834.2,866.1 1834.6,860.2 1834.9,863.1 1835.3,853.2 1835.6,868.6 1836.0,839.1 1836.3,865.7 1836.7,841.6 1837.0,853.1 1837.4,829.9 1837.7,845.6 1838.1,833.0 1838.4,834.6 1838.8,824.1 1839.1,821.8 1839.5,819.5 1839.8,826.9 1840.2,820.7 1840.5,824.1 1840.9,813.6 1841.2,812.4 1841.6,811.0 1841.9,815.4 1842.3,805.1 1842.6,815.5 1843.0,798.0 1843.3,808.5 1843.7,807.6 1844.0,797.1 1844.4,797.5 1844.7,801.9 1845.1,792.2 1845.4,795.6 1845.8,782.1 1846.2,797.2 1846.5,788.0 1846.9,796.5 1847.3,784.4 1847.7,793.0 1848.0,779.8 1848.4,797.5 1848.7,780.7 1849.1,795.3 1849.4,782.4 1849.8,798.1 1850.1,783.2 1850.5,795.2 1850.8,784.1 1851.2,784.8 1851.5,787.9 1851.9,787.1 1852.2,798.7 1852.6,808.7 1852.9,791.4 1853.3,795.1 1853.7,803.5 1854.0,806.3 1854.4,792.7 1854.8,813.1 1855.2,793.0 1855.5,814.8 1855.9,795.8 1856.3,813.7 1856.6,807.9 1857.0,819.0 1857.3,799.7 1857.7,821.1 1858.0,813.1 1858.4,821.9 1858.7,813.8 1859.1,814.6 1859.4,812.8 1859.8,818.8 1860.1,815.6 1860.5,821.4 1860.8,812.6 1861.2,819.5 1861.5,814.0 1861.9,820.6 1862.2,818.8 1862.6,819.4 1862.9,817.6 1863.3,819.0 1863.6,826.8 1864.0,830.1 1864.3,817.5 1864.7,817.9 1865.0,810.0 1865.4,823.8 1865.7,810.6 1866.1,820.9 1866.4,809.9 1866.8,824.5 1867.1,805.8 1867.5,806.9 1867.8,809.2 1868.2,808.8 1868.6,809.8 1868.9,814.6 1869.3,806.2 1869.7,809.0 1870.1,805.5 1870.4,811.7 1870.8,804.1 1871.2,811.9 1871.5,808.0 1871.9,811.3 1872.2,804.5 1872.6,813.0 1872.9,803.4 1873.3,811.3 1873.6,808.1 1874.0,812.6 1874.3,809.1 1874.7,806.3 1875.0,801.0 1875.4,820.3 1875.7,805.3 1876.1,806.8 1876.4,812.5 1876.8,822.4 1877.1,820.1 1877.5,821.0 1877.8,822.5 1878.2,836.9 1878.5,833.1 1878.9,838.7 1879.2,830.9 1879.6,838.9 1879.9,838.9 1880.3,843.2 1880.6,832.3 1881.0,839.2 1881.3,830.1 1881.7,835.5 1882.0,832.8 1882.4,837.4 1882.7,829.5 1883.1,833.1 1883.4,829.5 1883.8,840.1 1884.2,832.7 1884.6,836.0 1885.0,829.5 1885.3,834.2 1885.7,827.4 1886.0,825.9 1886.4,824.1 1886.7,831.6 1887.1,817.3 1887.4,831.6 1887.8,812.1 1888.1,809.8 1888.5,805.6 1888.8,817.9 1889.2,801.6 1889.5,815.1 1889.9,799.9 1890.2,801.7 1890.6,795.3 1890.9,807.7 1891.3,796.3 1891.6,797.3 1892.0,796.5 1892.3,804.2 1892.7,804.6 1893.0,809.0 1893.4,809.0 1893.7,801.5 1894.1,797.3 1894.4,807.8 1894.8,800.1 1895.1,803.8 1895.5,801.9 1895.8,813.9 1896.2,801.7 1896.5,807.8 1896.9,806.0 1897.3,806.4 1897.6,807.7 1898.0,808.5 1898.3,809.8 1898.7,816.0 1899.1,801.7 1899.5,814.2 1899.8,802.6 1900.2,801.5 1900.6,799.8 1900.9,813.3 1901.3,801.8 1901.6,815.2 1902.0,807.1 1902.3,812.0 1902.7,812.1 1903.1,822.3 1903.5,820.5 1903.8,824.1 1904.2,821.9 1904.6,822.3 1905.0,824.0 1905.3,823.2 1905.7,812.0 1906.0,821.8 1906.4,809.0 1906.7,819.9 1907.1,814.3 1907.4,806.8 1907.8,812.1 1908.1,818.8 1908.5,811.1 1908.8,818.2 1909.2,811.6 1909.6,808.8 1909.9,812.6 1910.3,816.2 1910.7,814.4 1911.1,817.7 1911.4,800.0 1911.8,815.6 1912.1,802.7 1912.5,812.4 1912.8,803.8 1913.2,805.1 1913.6,801.0 1914.0,808.3 1914.3,803.4 1914.7,805.1 1915.1,799.7 1915.5,802.1 1915.8,801.6 1916.2,809.2 1916.5,807.7 1916.9,805.9 1917.2,811.0 1917.6,807.4 1917.9,801.9 1918.3,811.2 1918.6,803.9 1919.0,812.7 1919.3,807.5 1919.7,816.4 1920.0,807.2 1920.4,820.3 1920.7,808.6 1921.1,824.2 1921.4,814.1 1921.8,829.1 1922.1,819.7 1922.5,828.2"/>
<use href="#d12" x="0.9"/>
<polyline id="d22" stroke="#000" stroke-width="1.2" stroke-linejoin="bevel" points="1349.1,1349.7 1353.1,1349.7 1357.5,1349.7 1361.0,1347.1 1363.6,1336.6 1365.4,1343.6 1367.1,1378.6 1368.9,1410.2 1369.8,1424.2 1371.2,1410.2 1372.4,1378.6 1373.3,1377.8 1374.2,1396.2 1375.6,1417.2 1376.8,1396.2 1377.7,1326.1 1378.5,1256.1 1379.4,1212.3 1380.3,1193.7 1381.7,1196.5 1382.9,1247.3 1384.1,1212.3 1385.2,1193.7 1387.6,1193.7 1388.7,1221.0 1389.9,1273.6 1391.7,1343.6 1393.4,1431.2 1395.2,1483.7 1396.0,1488.1 1396.4,1487.5 1396.7,1484.9 1397.1,1487.3 1397.4,1473.9 1397.8,1486.4 1398.1,1465.6 1398.5,1461.4 1398.8,1456.1 1399.2,1483.5 1399.5,1449.8 1399.9,1484.5 1400.2,1487.5 1400.6,1483.7 1400.9,1426.1 1401.3,1477.7 1401.6,1434.6 1402.0,1476.2 1402.3,1396.1 1402.7,1477.3 1403.1,1399.4 1403.5,1424.9 1403.9,1398.5 1404.3,1452.8 1404.7,1379.3 1405.1,1426.3 1405.5,1336.6 1405.8,1394.2 1406.2,1315.0 1406.5,1329.3 1406.9,1305.1 1407.3,1316.9 1407.6,1306.9 1408.0,1312.8 1408.4,1280.0 1408.8,1298.0 1409.2,1257.5 1409.6,1252.2 1410.0,1210.7 1410.4,1203.3 1410.8,1198.1 1411.1,1251.0 1411.5,1194.1 1411.8,1243.7 1412.2,1193.8 1412.5,1238.9 1412.9,1198.6 1413.2,1224.5 1413.6,1199.8 1413.9,1201.6 1414.3,1212.0 1414.6,1249.6 1415.0,1238.7 1415.4,1229.8 1415.8,1241.0 1416.2,1222.8 1416.5,1240.8 1416.9,1250.0 1417.2,1201.7 1417.6,1202.8 1417.9,1196.9 1418.3,1220.9 1418.6,1265.7 1419.0,1282.0 1419.3,1244.8 1419.7,1263.4 1420.1,1298.9 1420.5,1290.2 1420.9,1306.3 1421.3,1319.9 1421.6,1311.0 1422.0,1365.2 1422.3,1341.9 1422.7,1352.2 1423.0,1390.1 1423.4,1397.2 1423.7,1375.5 1424.1,1419.9 1424.4,1395.4 1424.8,1433.5 1425.1,1406.3 1425.5,1447.9 1425.9,1431.4 1426.3,1471.5 1426.7,1449.2 1427.1,1485.4 1427.6,1488.1 1431.9,1488.1 1432.4,1475.4 1432.8,1472.9 1433.2,1477.1 1433.5,1427.5 1433.9,1412.9 1434.2,1380.8 1434.6,1421.0 1435.0,1382.2 1435.4,1344.1 1435.9,1298.2 1436.3,1282.0 1436.7,1231.1 1437.0,1280.8 1437.4,1221.9 1437.7,1214.6 1438.1,1193.7 1438.4,1229.2 1438.8,1195.1 1439.1,1201.9 1439.5,1194.8 1439.8,1238.7 1440.2,1215.0 1440.5,1300.9 1440.9,1242.7 1441.2,1261.1 1441.6,1278.6 1441.9,1314.9 1442.3,1237.3 1442.6,1301.3 1443.0,1231.6 1443.3,1265.6 1443.7,1289.7 1444.0,1285.4 1444.4,1278.1 1444.7,1234.4 1445.1,1229.3 1445.4,1286.4 1445.8,1213.9 1446.1,1223.2 1446.5,1203.8 1446.8,1260.4 1447.2,1225.7 1447.5,1296.4 1447.9,1207.6 1448.2,1280.6 1448.6,1221.4 1448.9,1297.3 1449.3,1310.9 1449.6,1305.2 1450.0,1226.1 1450.3,1312.9 1450.7,1214.6 1451.0,1296.9 1451.4,1199.6 1451.7,1252.0 1452.1,1220.0 1452.4,1249.5 1452.8,1195.9 1453.1,1285.4 1453.5,1270.7 1453.8,1289.7 1454.2,1215.7 1454.5,1247.8 1454.9,1223.7 1455.2,1298.1 1455.6,1265.2 1456.1,1337.9 1456.5,1270.8 1456.9,1348.1 1457.3,1290.0 1457.7,1328.1 1458.0,1325.6 1458.4,1336.0 1458.7,1369.7 1459.1,1382.4 1459.4,1325.0 1459.8,1327.1 1460.1,1363.1 1460.5,1360.9 1460.8,1331.2 1461.2,1399.1 1461.7,1370.9 1462.1,1395.6 1462.5,1421.4 1462.9,1468.5 1463.3,1443.8 1463.6,1462.3 1464.0,1454.6 1464.3,1487.7 1464.7,1479.3 1465.0,1480.0 1465.4,1480.0 1465.7,1479.9 1466.1,1473.0 1466.5,1481.0 1466.8,1464.6 1467.2,1465.1 1467.6,1453.9 1468.0,1472.7 1468.3,1447.5 1468.7,1450.7 1469.1,1467.2 1469.4,1487.2 1469.8,1440.3 1470.1,1486.7 1470.5,1483.1 1470.8,1463.3 1471.2,1458.2 1471.5,1486.9 1471.9,1437.0 1472.2,1481.3 1472.6,1438.4 1472.9,1463.1 1473.3,1412.0 1473.6,1428.9 1474.0,1398.4 1474.4,1422.8 1474.8,1381.4 1475.2,1403.1 1475.6,1387.4 1475.9,1400.9 1476.3,1325.9 1476.7,1338.7 1477.1,1363.5 1477.5,1359.9 1477.8,1323.9 1478.2,1366.6 1478.5,1330.0 1478.9,1381.3 1479.2,1352.2 1479.6,1352.0 1480.0,1352.6 1480.5,1359.2 1480.8,1247.8 1481.2,1313.8 1481.5,1238.0 1481.9,1232.4 1482.3,1203.8 1482.7,1193.7 1485.4,1193.7 1485.8,1195.8 1486.2,1211.9 1486.6,1195.8 1486.9,1212.9 1487.3,1199.9 1487.6,1238.7 1488.0,1206.5 1488.3,1269.0 1488.7,1242.7 1489.0,1227.2 1489.4,1212.0 1489.7,1290.1 1490.1,1237.0 1490.6,1302.2 1491.0,1303.9 1491.3,1334.9 1491.7,1300.0 1492.0,1387.6 1492.4,1308.9 1492.7,1309.4 1493.1,1346.4 1493.4,1369.3 1493.8,1359.2 1494.2,1345.5 1494.6,1315.9 1495.0,1360.1 1495.5,1309.3 1495.9,1393.8 1496.3,1365.2 1496.7,1387.9 1497.1,1398.6 1497.4,1419.1 1497.8,1401.0 1498.1,1441.0 1498.5,1422.9 1498.9,1444.1 1499.3,1440.3 1499.7,1486.5 1500.1,1458.4 1500.4,1463.9 1500.8,1466.4 1501.1,1487.6 1501.5,1469.8 1501.8,1487.2 1502.2,1454.6 1502.5,1485.2 1502.9,1470.6 1503.3,1487.0 1503.7,1436.2 1504.1,1485.5 1504.4,1432.7 1504.8,1486.8 1505.1,1446.8 1505.5,1487.3 1505.8,1450.2 1506.2,1487.6 1506.5,1458.5 1506.9,1472.6 1507.3,1450.0 1507.7,1480.3 1508.1,1427.6 1508.5,1390.2 1508.9,1452.9 1509.4,1439.1 1509.7,1400.4 1510.1,1336.2 1510.4,1293.1 1510.8,1351.1 1511.2,1265.0 1511.6,1296.3 1512.0,1213.0 1512.3,1270.5 1512.7,1212.6 1513.0,1243.1 1513.4,1193.7 1513.7,1245.9 1514.1,1194.8 1514.4,1204.9 1514.8,1194.0 1515.2,1256.5 1515.6,1198.6 1516.0,1274.5 1516.4,1246.7 1516.8,1279.0 1517.2,1268.0 1517.6,1261.7 1517.9,1243.3 1518.3,1280.7 1518.6,1225.3 1519.0,1292.8 1519.3,1266.3 1519.7,1299.5 1520.0,1248.3 1520.4,1345.4 1520.9,1297.3 1521.3,1395.7 1521.7,1363.3 1522.1,1369.7 1522.5,1435.2 1522.8,1455.3 1523.2,1424.0 1523.5,1464.0 1523.9,1455.0 1524.2,1465.2 1524.6,1444.5 1524.9,1483.9 1525.3,1480.6 1525.6,1485.9 1526.0,1457.6 1526.3,1481.8 1526.7,1448.0 1527.0,1456.8 1527.4,1484.0 1527.7,1475.1 1528.1,1486.6 1528.4,1486.1 1528.8,1446.5 1529.1,1485.4 1529.5,1459.6 1529.8,1455.4 1530.2,1451.1 1530.5,1461.1 1530.9,1462.2 1531.2,1474.5 1531.6,1445.0 1531.9,1452.7 1532.3,1431.1 1532.6,1438.1 1533.0,1417.2 1533.3,1482.7 1533.7,1379.0 1534.0,1408.8 1534.4,1344.0 1534.7,1366.6 1535.1,1308.4 1535.4,1292.0 1535.8,1296.8 1536.1,1250.5 1536.5,1227.8 1536.8,1315.4 1537.2,1298.8 1537.5,1275.8 1537.9,1200.0 1538.2,1227.0 1538.6,1198.8 1538.9,1215.1 1539.3,1196.4 1539.6,1222.9 1540.0,1195.5 1540.4,1221.5 1540.7,1205.0 1541.1,1201.5 1541.4,1199.9 1541.8,1221.4 1542.1,1220.4 1542.5,1222.0 1542.8,1205.4 1543.2,1210.1 1543.5,1199.0 1543.9,1239.2 1544.2,1197.2 1544.6,1239.1 1544.9,1282.6 1545.3,1219.0 1545.6,1218.9 1546.0,1275.5 1546.3,1232.9 1546.7,1315.9 1547.1,1291.6 1547.5,1309.1 1548.0,1285.8 1548.4,1378.1 1548.8,1383.9 1549.3,1474.6 1549.6,1427.1 1550.0,1476.0 1550.3,1448.3 1550.7,1477.3 1551.0,1375.5 1551.4,1397.7 1551.7,1407.6 1552.1,1458.2 1552.4,1373.1 1552.8,1425.2 1553.1,1373.8 1553.5,1392.6 1553.8,1422.7 1554.2,1421.9 1554.5,1455.8 1554.9,1394.6 1555.2,1447.5 1555.6,1473.6 1555.9,1397.7 1556.3,1483.0 1556.7,1395.3 1557.1,1412.4 1557.5,1438.5 1557.9,1456.1 1558.2,1383.4 1558.6,1475.4 1558.9,1417.2 1559.3,1468.1 1559.6,1379.3 1560.0,1472.8 1560.3,1424.7 1560.7,1471.9 1561.0,1341.5 1561.4,1431.9 1561.7,1340.6 1562.1,1411.7 1562.4,1388.8 1562.8,1394.4 1563.1,1339.2 1563.5,1397.4 1563.8,1367.8 1564.2,1353.9 1564.5,1366.5 1564.9,1348.7 1565.2,1380.1 1565.6,1398.5 1565.9,1386.4 1566.3,1374.6 1566.6,1418.5 1567.0,1444.6 1567.3,1443.1 1567.7,1453.0 1568.0,1431.3 1568.4,1445.8 1568.7,1402.0 1569.1,1468.7 1569.4,1410.5 1569.8,1471.8 1570.1,1411.1 1570.5,1478.8 1570.8,1422.5 1571.2,1459.9 1571.5,1403.2 1571.9,1439.5 1572.2,1448.9 1572.6,1436.0 1572.9,1384.2 1573.3,1434.0 1573.6,1384.7 1574.0,1429.7 1574.3,1407.8 1574.7,1410.7 1575.0,1377.3 1575.4,1377.8 1575.7,1435.7 1576.1,1430.3 1576.4,1370.0 1576.8,1428.5 1577.1,1344.7 1577.5,1390.1 1577.8,1364.8 1578.2,1403.8 1578.5,1316.6 1578.9,1357.9 1579.2,1302.6 1579.6,1338.6 1579.9,1292.7 1580.3,1327.9 1580.6,1304.0 1581.0,1283.6 1581.3,1261.9 1581.7,1288.0 1582.0,1253.4 1582.4,1280.0 1582.7,1278.7 1583.1,1284.9 1583.5,1339.9 1583.9,1346.2 1584.3,1307.7 1584.7,1329.9 1585.1,1345.5 1585.5,1384.2 1585.9,1356.4 1586.2,1420.4 1586.6,1376.1 1586.9,1428.8 1587.3,1390.0 1587.6,1440.7 1588.0,1411.9 1588.3,1442.3 1588.7,1434.5 1589.2,1467.1 1589.6,1457.9 1590.0,1483.6 1590.4,1467.1 1590.8,1482.7 1591.1,1479.3 1591.5,1486.8 1591.8,1462.7 1592.2,1480.9 1592.5,1470.0 1592.9,1487.7 1593.2,1450.8 1593.6,1484.5 1593.9,1448.4 1594.3,1483.3 1594.6,1412.4 1595.0,1438.4 1595.3,1399.5 1595.7,1412.9 1596.1,1375.8 1596.5,1396.3 1596.9,1305.8 1597.3,1358.0 1597.6,1299.8 1598.0,1325.7 1598.3,1249.9 1598.7,1290.3 1599.1,1223.8 1599.5,1252.3 1599.9,1225.9 1600.2,1237.9 1600.6,1228.2 1600.9,1254.5 1601.4,1228.0 1601.8,1254.5 1602.2,1208.0 1602.5,1222.4 1602.9,1219.6 1603.2,1269.1 1603.6,1231.9 1603.9,1269.1 1604.3,1242.7 1604.6,1239.0 1605.0,1231.1 1605.3,1258.1 1605.7,1230.0 1606.0,1274.1 1606.4,1230.5 1606.7,1272.3 1607.1,1245.8 1607.5,1275.9 1607.9,1240.5 1608.3,1264.1 1608.7,1271.0 1609.0,1302.5 1609.4,1265.6 1609.7,1309.2 1610.1,1270.9 1610.4,1310.5 1610.8,1261.1 1611.1,1329.6 1611.5,1300.6 1611.9,1310.0 1612.3,1257.6 1612.7,1297.8 1613.1,1295.6 1613.6,1286.6 1613.9,1252.1 1614.3,1292.2 1614.6,1246.8 1615.0,1295.8 1615.3,1247.6 1615.7,1297.4 1616.0,1261.4 1616.4,1294.4 1616.7,1252.7 1617.1,1299.6 1617.4,1284.3 1617.8,1297.9 1618.1,1271.7 1618.5,1294.5 1618.8,1271.8 1619.2,1297.0 1619.5,1285.8 1619.9,1296.1 1620.2,1273.1 1620.6,1286.0 1621.0,1277.4 1621.4,1299.7 1621.8,1286.0 1622.1,1293.0 1622.5,1284.9 1622.8,1295.1 1623.2,1314.1 1623.5,1328.0 1623.9,1307.6 1624.2,1325.4 1624.6,1339.0 1624.9,1345.7 1625.3,1331.0 1625.6,1361.1 1626.0,1338.8 1626.3,1359.1 1626.7,1356.9 1627.0,1390.6 1627.4,1360.7 1627.7,1392.5 1628.1,1371.3 1628.4,1397.2 1628.8,1386.3 1629.1,1410.4 1629.5,1369.9 1629.8,1371.9 1630.0,1400.4 1630.4,1396.3 1630.7,1364.3 1631.1,1362.7 1631.4,1346.1 1631.8,1381.4 1632.2,1340.7 1632.6,1335.9 1633.0,1301.2 1633.4,1325.7 1633.9,1302.0 1634.2,1300.4 1634.6,1271.2 1634.9,1293.3 1635.3,1290.5 1635.6,1284.0 1636.0,1250.7 1636.3,1257.3 1636.7,1251.3 1637.1,1239.3 1637.5,1232.8 1637.9,1249.1 1638.3,1241.2 1638.7,1226.5 1639.1,1208.3 1639.5,1230.1 1639.8,1203.3 1640.2,1216.8 1640.5,1226.3 1640.9,1232.5 1641.2,1219.0 1641.6,1231.1 1641.9,1227.1 1642.3,1231.4 1642.7,1206.9 1643.1,1225.1 1643.5,1221.0 1644.0,1216.7 1644.4,1233.8 1644.7,1238.5 1645.1,1234.0 1645.4,1263.8 1645.8,1255.1 1646.2,1281.3 1646.6,1258.7 1647.0,1263.8 1647.3,1271.2 1647.7,1307.1 1648.0,1336.5 1648.4,1312.3 1648.9,1290.7 1649.3,1328.2 1649.6,1287.8 1650.0,1342.6 1650.3,1283.2 1650.7,1343.2 1651.1,1279.8 1651.5,1306.2 1651.9,1277.6 1652.3,1348.5 1652.7,1330.3 1653.1,1351.4 1653.5,1383.9 1653.8,1394.6 1654.2,1347.0 1654.5,1400.7 1654.9,1401.8 1655.3,1419.5 1655.7,1416.5 1656.1,1407.8 1656.4,1365.5 1656.8,1400.6 1657.1,1400.6 1657.5,1401.2 1657.8,1342.1 1658.2,1404.6 1658.5,1343.3 1659.0,1392.4 1659.4,1349.8 1659.8,1337.3 1660.1,1344.2 1660.5,1389.5 1660.8,1359.8 1661.2,1353.1 1661.6,1371.6 1662.0,1377.9 1662.4,1411.7 1662.8,1408.4 1663.2,1361.8 1663.6,1348.8 1664.0,1342.8 1664.3,1343.3 1664.7,1309.5 1665.1,1326.8 1665.6,1261.7 1666.0,1282.5 1666.4,1272.5 1666.8,1280.2 1667.1,1241.8 1667.5,1241.4 1667.8,1249.8 1668.2,1239.5 1668.6,1226.9 1669.0,1278.5 1669.4,1213.9 1669.8,1243.7 1670.1,1210.9 1670.5,1274.4 1670.8,1227.9 1671.2,1278.0 1671.5,1225.5 1671.9,1241.6 1672.2,1212.9 1672.6,1278.8 1673.0,1227.2 1673.4,1258.4 1673.8,1281.8 1674.1,1275.7 1674.5,1271.2 1674.8,1255.8 1675.2,1268.0 1675.6,1288.6 1676.0,1267.4 1676.4,1289.6 1676.8,1305.3 1677.2,1303.1 1677.6,1317.9 1678.0,1343.7 1678.3,1313.5 1678.7,1351.1 1679.0,1320.3 1679.4,1360.3 1679.7,1323.5 1680.1,1368.0 1680.4,1337.9 1680.8,1379.3 1681.2,1337.0 1681.6,1337.9 1682.0,1310.9 1682.4,1345.6 1682.7,1321.5 1683.1,1317.2 1683.4,1314.3 1683.8,1333.5 1684.1,1346.5 1684.5,1382.1 1684.8,1322.6 1685.2,1325.9 1685.5,1354.0 1685.9,1362.0 1686.2,1319.1 1686.6,1360.4 1686.9,1318.2 1687.3,1342.2 1687.7,1280.6 1688.1,1311.2 1688.5,1271.1 1688.8,1291.8 1689.2,1266.5 1689.5,1310.0 1689.9,1287.0 1690.2,1288.3 1690.6,1255.7 1690.9,1300.1 1691.3,1266.8 1691.6,1296.6 1692.0,1271.4 1692.3,1290.3 1692.7,1269.2 1693.0,1290.2 1693.4,1285.4 1693.7,1294.9 1694.1,1268.1 1694.4,1297.1 1694.8,1268.1 1695.1,1309.5 1695.5,1257.9 1695.8,1281.6 1696.2,1258.4 1696.5,1325.7 1696.9,1262.9 1697.3,1310.9 1697.6,1264.8 1698.0,1321.4 1698.3,1291.7 1698.7,1323.2 1699.1,1298.3 1699.5,1336.0 1699.9,1309.1 1700.2,1313.3 1700.6,1311.2 1700.9,1338.1 1701.4,1311.3 1701.8,1325.7 1702.2,1276.7 1702.5,1296.8 1702.9,1279.2 1703.2,1314.4 1703.6,1310.6 1703.9,1311.2 1704.3,1279.1 1704.6,1291.8 1705.0,1274.3 1705.3,1291.6 1705.7,1310.2 1706.0,1307.8 1706.4,1272.1 1706.7,1316.1 1707.1,1290.7 1707.5,1308.5 1707.9,1275.5 1708.3,1282.6 1708.6,1265.2 1709.0,1287.9 1709.3,1255.7 1709.7,1297.4 1710.0,1251.3 1710.4,1251.7 1710.7,1247.5 1711.1,1266.3 1711.4,1275.3 1711.8,1260.3 1712.3,1258.5 1712.7,1280.3 1713.0,1273.8 1713.4,1299.2 1713.7,1278.9 1714.1,1315.2 1714.4,1303.4 1714.8,1340.2 1715.1,1298.7 1715.5,1316.2 1715.9,1327.0 1716.3,1355.0 1716.6,1289.3 1717.0,1342.2 1717.4,1294.6 1717.8,1350.5 1718.2,1291.5 1718.6,1354.2 1719.0,1291.8 1719.4,1335.6 1719.8,1306.1 1720.1,1347.5 1720.5,1317.6 1720.9,1345.2 1721.2,1348.4 1721.6,1355.9 1721.9,1333.1 1722.3,1348.4 1722.6,1326.7 1723.0,1358.9 1723.3,1329.2 1723.7,1350.9 1724.0,1326.5 1724.4,1333.6 1724.7,1354.1 1725.1,1330.0 1725.4,1353.7 1725.9,1349.2 1726.3,1326.6 1726.7,1312.2 1727.0,1306.7 1727.4,1303.8 1727.7,1283.8 1728.1,1283.4 1728.4,1290.5 1728.8,1305.5 1729.1,1267.5 1729.5,1289.7 1729.8,1263.5 1730.2,1299.4 1730.5,1282.7 1730.9,1298.6 1731.2,1279.7 1731.6,1297.1 1731.9,1276.8 1732.3,1293.1 1732.6,1289.4 1733.0,1287.8 1733.4,1274.9 1733.8,1303.3 1734.2,1277.5 1734.6,1311.6 1734.9,1311.9 1735.3,1324.4 1735.6,1307.5 1736.0,1332.8 1736.4,1330.3 1736.8,1341.3 1737.2,1323.0 1737.5,1336.6 1737.9,1323.0 1738.2,1328.1 1738.6,1349.7 1738.9,1350.7 1739.3,1325.8 1739.6,1356.8 1740.0,1321.1 1740.3,1322.8 1740.7,1346.0 1741.0,1349.9 1741.4,1325.9 1741.8,1336.1 1742.2,1330.9 1742.6,1344.2 1743.0,1330.3 1743.3,1349.6 1743.7,1331.1 1744.0,1340.3 1744.4,1315.3 1744.7,1332.7 1745.1,1311.4 1745.5,1311.4 1745.9,1286.2 1746.3,1306.6 1746.6,1284.0 1747.0,1303.0 1747.3,1285.7 1747.7,1305.0 1748.0,1277.0 1748.4,1299.0 1748.7,1274.8 1749.1,1295.2 1749.6,1268.5 1750.0,1274.6 1750.3,1269.5 1750.7,1286.1 1751.0,1279.7 1751.4,1298.2 1751.8,1296.4 1752.2,1308.4 1752.5,1308.0 1752.9,1321.7 1753.3,1310.1 1753.6,1309.8 1754.0,1314.3 1754.3,1334.3 1754.7,1313.3 1755.0,1327.9 1755.4,1322.4 1755.7,1343.3 1756.1,1333.0 1756.5,1338.3 1756.9,1335.8 1757.3,1348.2 1757.7,1343.1 1758.0,1343.7 1758.4,1324.6 1758.7,1344.7 1759.1,1322.3 1759.4,1342.9 1759.8,1331.0 1760.1,1340.8 1760.5,1307.7 1760.8,1333.4 1761.2,1310.2 1761.5,1324.3 1761.9,1304.9 1762.2,1322.2 1762.6,1294.9 1762.9,1308.8 1763.3,1290.5 1763.6,1300.7 1764.0,1277.5 1764.4,1290.0 1764.8,1274.2 1765.2,1271.2 1765.6,1246.8 1765.9,1269.2 1766.3,1248.9 1766.6,1260.4 1767.0,1245.5 1767.3,1252.1 1767.7,1244.4 1768.0,1268.1 1768.4,1270.7 1768.7,1258.3 1769.1,1243.2 1769.4,1272.5 1769.8,1248.8 1770.1,1259.6 1770.5,1263.2 1770.8,1274.7 1771.2,1268.9 1771.5,1286.6 1771.9,1275.8 1772.2,1309.9 1772.6,1289.3 1772.9,1328.7 1773.3,1322.6 1773.7,1307.0 1774.1,1317.0 1774.5,1338.6 1774.8,1329.8 1775.2,1341.0 1775.5,1326.7 1775.9,1341.9 1776.2,1331.1 1776.6,1345.0 1776.9,1339.2 1777.3,1343.9 1777.6,1341.0 1778.0,1352.9 1778.3,1338.0 1778.7,1339.9 1779.0,1331.5 1779.4,1339.1 1779.7,1329.4 1780.1,1325.3 1780.4,1321.3 1780.8,1325.9 1781.1,1334.1 1781.5,1336.1 1781.8,1325.0 1782.2,1330.4 1782.5,1320.6 1782.9,1331.8 1783.2,1324.2 1783.6,1333.6 1783.9,1317.0 1784.3,1331.1 1784.6,1330.9 1785.0,1332.7 1785.3,1316.0 1785.7,1316.9 1786.0,1334.0 1786.4,1339.8 1786.7,1322.2 1787.1,1318.1 1787.4,1331.4 1787.8,1335.2 1788.1,1331.0 1788.5,1330.6 1788.8,1312.1 1789.2,1324.0 1789.5,1322.8 1789.9,1322.6 1790.2,1313.8 1790.6,1317.3 1790.9,1310.6 1791.3,1317.3 1791.6,1308.0 1792.0,1314.2 1792.4,1303.4 1792.9,1308.1 1793.2,1283.5 1793.6,1295.8 1793.9,1293.3 1794.3,1295.4 1794.6,1281.0 1795.0,1284.8 1795.3,1284.9 1795.7,1278.1 1796.0,1271.8 1796.4,1276.1 1796.8,1257.3 1797.3,1247.9 1797.6,1244.6 1798.0,1250.7 1798.3,1239.4 1798.7,1248.5 1799.0,1257.4 1799.4,1259.0 1799.8,1253.3 1800.2,1254.8 1800.6,1252.7 1800.9,1272.2 1801.3,1257.8 1801.6,1283.7 1802.0,1285.9 1802.3,1290.9 1802.7,1291.7 1803.0,1293.6 1803.4,1288.0 1803.7,1308.9 1804.1,1297.5 1804.4,1306.2 1804.8,1304.1 1805.1,1325.7 1805.5,1310.3 1805.8,1319.7 1806.2,1316.3 1806.5,1339.8 1806.9,1323.2 1807.2,1342.2 1807.6,1337.5 1807.9,1350.7 1808.3,1340.5 1808.7,1355.4 1809.1,1356.9 1809.5,1348.6 1809.9,1349.2 1810.2,1357.0 1810.6,1350.5 1811.0,1357.4 1811.4,1356.8 1811.8,1352.4 1812.1,1348.1 1812.5,1351.8 1812.8,1348.8 1813.2,1362.2 1813.5,1342.6 1813.9,1359.6 1814.4,1345.2 1814.8,1350.7 1815.1,1344.5 1815.5,1345.7 1815.8,1325.6 1816.2,1328.9 1816.5,1316.2 1816.9,1322.2 1817.2,1328.5 1817.6,1314.0 1817.9,1314.1 1818.3,1318.7 1818.6,1301.4 1819.0,1314.5 1819.3,1296.6 1819.7,1296.9 1820.0,1306.2 1820.4,1290.9 1820.7,1290.4 1821.1,1285.4 1821.4,1293.0 1821.8,1291.9 1822.1,1280.2 1822.5,1279.6 1822.8,1282.2 1823.2,1280.3 1823.5,1286.3 1823.9,1280.8 1824.2,1278.7 1824.6,1277.9 1824.9,1276.1 1825.3,1278.9 1825.6,1279.9 1826.0,1282.6 1826.3,1281.5 1826.7,1288.4 1827.0,1275.4 1827.4,1289.7 1827.7,1285.6 1828.1,1291.2 1828.4,1288.9 1828.8,1296.0 1829.1,1285.3 1829.5,1295.7 1829.8,1290.7 1830.2,1297.0 1830.5,1287.7 1830.9,1287.6 1831.2,1286.2 1831.6,1298.8 1831.9,1293.8 1832.3,1299.0 1832.6,1295.3 1833.0,1298.8 1833.3,1287.6 1833.7,1298.0 1834.0,1289.9 1834.4,1296.7 1834.7,1300.5 1835.1,1293.5 1835.4,1300.4 1835.8,1304.7 1836.1,1296.1 1836.5,1305.6 1836.8,1303.2 1837.2,1306.8 1837.5,1300.2 1837.9,1301.7 1838.2,1300.9 1838.6,1306.8 1838.9,1303.0 1839.3,1307.8 1839.6,1301.3 1840.0,1306.2 1840.3,1307.0 1840.7,1304.0 1841.0,1308.1 1841.4,1310.7 1841.7,1303.2 1842.1,1308.4 1842.4,1303.0 1842.8,1304.5 1843.1,1303.5 1843.5,1306.5 1843.8,1300.2 1844.2,1301.7 1844.5,1304.7 1844.9,1300.3 1845.2,1299.7 1845.6,1307.6 1845.9,1298.9 1846.3,1302.6 1846.6,1303.3 1847.0,1310.7 1847.3,1299.0 1847.7,1309.3 1848.0,1298.4 1848.4,1306.7 1848.7,1306.1 1849.1,1314.5 1849.4,1307.1 1849.8,1314.9 1850.1,1313.8 1850.5,1321.4 1850.8,1313.8 1851.2,1324.2 1851.5,1316.9 1851.9,1325.7 1852.2,1319.1 1852.6,1320.7 1852.9,1324.5 1853.3,1329.2 1853.6,1324.9 1854.0,1329.7 1854.3,1323.3 1854.7,1330.5 1855.0,1324.9 1855.4,1330.0 1855.7,1323.4 1856.1,1328.9 1856.4,1323.6 1856.8,1327.1 1857.1,1325.2 1857.5,1320.1 1857.8,1317.8 1858.2,1319.7 1858.5,1314.3 1858.9,1312.7 1859.2,1310.8 1859.6,1317.1 1859.9,1310.3 1860.3,1312.5 1860.6,1303.7 1861.0,1312.4 1861.3,1309.1 1861.7,1309.6 1862.0,1306.4 1862.4,1303.8 1862.7,1296.0 1863.1,1302.0 1863.5,1295.3 1863.8,1301.0 1864.2,1298.8 1864.5,1299.6 1864.9,1299.5 1865.2,1296.7 1865.6,1293.9 1865.9,1299.1 1866.3,1297.5 1866.6,1289.7 1867.0,1293.7 1867.3,1296.8 1867.7,1286.1 1868.0,1296.2 1868.4,1292.4 1868.7,1294.9 1869.1,1286.2 1869.4,1294.7 1869.8,1291.6 1870.1,1295.6 1870.5,1293.1 1870.8,1297.3 1871.2,1291.9 1871.5,1297.9 1871.9,1298.1 1872.2,1298.2 1872.6,1293.8 1872.9,1297.7 1873.3,1296.7 1873.6,1299.1 1874.0,1294.9 1874.3,1295.1 1874.7,1300.0 1875.0,1300.4 1875.4,1298.9 1875.7,1303.2 1876.1,1300.5 1876.4,1305.5 1876.8,1308.2 1877.1,1305.0 1877.5,1306.4 1877.8,1307.7 1878.2,1306.3 1878.6,1309.5 1879.0,1312.8 1879.4,1309.1 1879.7,1308.0 1880.1,1311.2 1880.4,1307.5 1880.8,1309.5 1881.1,1306.6 1881.5,1309.0 1881.8,1307.7 1882.2,1308.6 1882.5,1301.7 1882.9,1306.3 1883.2,1300.6 1883.6,1306.8 1883.9,1300.4 1884.3,1302.0 1884.6,1299.6 1885.0,1299.2 1885.3,1298.4 1885.7,1297.6 1886.0,1299.2 1886.4,1301.0 1886.7,1296.8 1887.1,1298.3 1887.4,1293.0 1887.8,1297.3 1888.1,1295.0 1888.5,1295.4 1888.8,1288.2 1889.2,1292.4 1889.5,1289.6 1889.9,1293.9 1890.2,1295.4 1890.6,1297.2 1890.9,1291.4 1891.3,1294.2 1891.6,1293.0 1892.0,1295.4 1892.3,1294.3 1892.7,1301.2 1893.0,1297.4 1893.4,1305.3 1893.7,1301.6 1894.1,1308.4 1894.4,1309.9 1894.8,1313.7 1895.1,1309.6 1895.5,1315.4 1895.8,1318.6 1896.2,1322.2 1896.5,1319.4 1896.9,1323.9 1897.3,1327.3 1897.6,1329.9 1898.0,1327.2 1898.3,1327.8 1898.7,1328.8 1899.0,1334.7 1899.4,1333.1 1899.7,1332.9 1900.1,1331.8 1900.4,1335.0 1900.8,1329.2 1901.1,1332.1 1901.5,1326.1 1901.8,1328.5 1902.2,1326.4 1902.5,1325.6 1902.9,1317.4 1903.2,1320.9 1903.6,1317.2 1903.9,1316.6 1904.3,1311.0 1904.6,1312.4 1905.0,1305.0 1905.3,1308.2 1905.7,1298.0 1906.0,1296.1 1906.4,1292.8 1906.7,1296.9 1907.1,1288.0 1907.4,1288.7 1907.8,1285.3 1908.1,1288.0 1908.5,1281.3 1908.8,1280.7 1909.2,1281.6 1909.5,1279.4 1909.9,1280.0 1910.2,1278.5 1910.6,1276.8 1910.9,1280.9 1911.3,1277.3 1911.6,1280.6 1912.0,1277.4 1912.3,1280.2 1912.7,1284.2 1913.0,1285.7 1913.4,1284.5 1913.7,1289.2 1914.1,1287.6 1914.4,1293.6 1914.8,1293.9 1915.1,1297.1 1915.5,1300.2 1915.8,1305.1 1916.2,1307.4 1916.5,1315.9 1916.9,1312.8 1917.2,1321.5 1917.6,1318.4 1917.9,1327.0 1918.3,1324.1 1918.6,1326.6 1919.0,1328.3 1919.3,1333.2 1919.7,1331.5 1920.0,1334.4 1920.4,1330.3 1920.7,1333.9 1921.1,1330.6 1921.4,1333.1 1921.8,1331.6 1922.1,1331.4 1922.5,1329.0 1922.8,1329.6"/>
<use href="#d22" x="0.9"/>
<path stroke="#f00" stroke-width="5.6" stroke-linecap="round" stroke-dasharray="17.2 17.3" d="M773.0 283.7h576.3" shape-rendering="auto"/>
<path stroke="#f00" stroke-width="5.6" stroke-linecap="round" stroke-dasharray="17.2 17.3" d="M773.0 325.6h576.3" shape-rendering="auto"/>
<path stroke="#f00" stroke-width="5.6" stroke-linecap="round" stroke-dasharray="17.2 17.3" d="M773.0 801.3h576.3" shape-rendering="auto"/>
<path stroke="#f00" stroke-width="5.6" stroke-linecap="round" stroke-dasharray="17.2 17.3" d="M773.0 844.4h576.3" shape-rendering="auto"/>
<path stroke="#f00" stroke-width="5.6" stroke-linecap="round" stroke-dasharray="17.2 17.3" d="M773.0 1318.9h576.3" shape-rendering="auto"/>
<path stroke="#f00" stroke-width="5.6" stroke-linecap="round" stroke-dasharray="17.2 17.3" d="M773.0 1363.3h576.3" shape-rendering="auto"/>
<path stroke="#f00" stroke-width="5.6" stroke-linecap="round" stroke-dasharray="17.2 17.3" d="M1349.1 166.4h576.3" shape-rendering="auto"/>
<path stroke="#f00" stroke-width="5.6" stroke-linecap="round" stroke-dasharray="17.2 17.3" d="M1349.1 442.8h576.3" shape-rendering="auto"/>
<path stroke="#f00" stroke-width="5.6" stroke-linecap="round" stroke-dasharray="17.2 17.3" d="M1349.1 679.6h576.3" shape-rendering="auto"/>
<path stroke="#f00" stroke-width="5.6" stroke-linecap="round" stroke-dasharray="17.2 17.3" d="M1349.1 966.0h576.3" shape-rendering="auto"/>
<path stroke="#f00" stroke-width="5.6" stroke-linecap="round" stroke-dasharray="17.2 17.3" d="M1349.1 1193.7h576.3" shape-rendering="auto"/>
<path stroke="#f00" stroke-width="5.6" stroke-linecap="round" stroke-dasharray="17.2 17.3" d="M1349.1 1488.5h576.3" shape-rendering="auto"/>
</g>
<g stroke="#000" stroke-width="5.0" stroke-linecap="round" fill="none">
<path d="M292.5 45.5v17.0M292.5 563.7v-17.0M388.6 45.5v34.9M388.6 563.7v-34.9M484.6 45.5v17.0M484.6 563.7v-17.0M580.7 45.5v34.9M580.7 563.7v-34.9M676.8 45.5v17.0M676.8 563.7v-17.0M196.5 503.9h17.0M772.8 503.9h-17.0M196.5 437.5h34.9M772.8 437.5h-34.9M196.5 371.0h17.0M772.8 371.0h-17.0M196.5 304.6h34.9M772.8 304.6h-34.9M196.5 238.2h17.0M772.8 238.2h-17.0M196.5 171.7h34.9M772.8 171.7h-34.9M196.5 105.3h17.0M772.8 105.3h-17.0M869.0 45.5v17.0M869.0 563.7v-17.0M965.1 45.5v34.9M965.1 563.7v-34.9M1061.2 45.5v17.0M1061.2 563.7v-17.0M1157.2 45.5v34.9M1157.2 563.7v-34.9M1253.2 45.5v17.0M1253.2 563.7v-17.0M773.0 503.9h17.0M1349.3 503.9h-17.0M773.0 437.5h34.9M1349.3 437.5h-34.9M773.0 371.0h17.0M1349.3 371.0h-17.0M773.0 304.6h34.9M1349.3 304.6h-34.9M773.0 238.2h17.0M1349.3 238.2h-17.0M773.0 171.7h34.9M1349.3 171.7h-34.9M773.0 105.3h17.0M1349.3 105.3h-17.0M1445.1 45.5v17.0M1445.1 563.7v-17.0M1541.2 45.5v34.9M1541.2 563.7v-34.9M1637.2 45.5v17.0M1637.2 563.7v-17.0M1733.3 45.5v34.9M1733.3 563.7v-34.9M1829.3 45.5v17.0M1829.3 563.7v-17.0M1349.1 503.9h17.0M1925.4 503.9h-17.0M1349.1 437.5h34.9M1925.4 437.5h-34.9M1349.1 371.0h17.0M1925.4 371.0h-17.0M1349.1 304.6h34.9M1925.4 304.6h-34.9M1349.1 238.2h17.0M1925.4 238.2h-17.0M1349.1 171.7h34.9M1925.4 171.7h-34.9M1349.1 105.3h17.0M1925.4 105.3h-17.0M292.5 563.7v17.0M292.5 1081.9v-17.0M388.6 563.7v34.9M388.6 1081.9v-34.9M484.6 563.7v17.0M484.6 1081.9v-17.0M580.7 563.7v34.9M580.7 1081.9v-34.9M676.8 563.7v17.0M676.8 1081.9v-17.0M196.5 1022.1h17.0M772.8 1022.1h-17.0M196.5 955.7h34.9M772.8 955.7h-34.9M196.5 889.2h17.0M772.8 889.2h-17.0M196.5 822.8h34.9M772.8 822.8h-34.9M196.5 756.4h17.0M772.8 756.4h-17.0M196.5 689.9h34.9M772.8 689.9h-34.9M196.5 623.5h17.0M772.8 623.5h-17.0M869.0 563.7v17.0M869.0 1081.9v-17.0M965.1 563.7v34.9M965.1 1081.9v-34.9M1061.2 563.7v17.0M1061.2 1081.9v-17.0M1157.2 563.7v34.9M1157.2 1081.9v-34.9M1253.2 563.7v17.0M1253.2 1081.9v-17.0M773.0 1022.1h17.0M1349.3 1022.1h-17.0M773.0 955.7h34.9M1349.3 955.7h-34.9M773.0 889.2h17.0M1349.3 889.2h-17.0M773.0 822.8h34.9M1349.3 822.8h-34.9M773.0 756.4h17.0M1349.3 756.4h-17.0M773.0 689.9h34.9M1349.3 689.9h-34.9M773.0 623.5h17.0M1349.3 623.5h-17.0M1445.1 563.7v17.0M1445.1 1081.9v-17.0M1541.2 563.7v34.9M1541.2 1081.9v-34.9M1637.2 563.7v17.0M1637.2 1081.9v-17.0M1733.3 563.7v34.9M1733.3 1081.9v-34.9M1829.3 563.7v17.0M1829.3 1081.9v-17.0M1349.1 1022.1h17.0M1925.4 1022.1h-17.0M1349.1 955.7h34.9M1925.4 955.7h-34.9M1349.1 889.2h17.0M1925.4 889.2h-17.0M1349.1 822.8h34.9M1925.4 822.8h-34.9M1349.1 756.4h17.0M1925.4 756.4h-17.0M1349.1 689.9h34.9M1925.4 689.9h-34.9M1349.1 623.5h17.0M1925.4 623.5h-17.0M292.5 1082.0v17.0M292.5 1600.2v-17.0M388.6 1082.0v34.9M388.6 1600.2v-34.9M484.6 1082.0v17.0M484.6 1600.2v-17.0M580.7 1082.0v34.9M580.7 1600.2v-34.9M676.8 1082.0v17.0M676.8 1600.2v-17.0M196.5 1540.4h17.0M772.8 1540.4h-17.0M196.5 1474.0h34.9M772.8 1474.0h-34.9M196.5 1407.5h17.0M772.8 1407.5h-17.0M196.5 1341.1h34.9M772.8 1341.1h-34.9M196.5 1274.7h17.0M772.8 1274.7h-17.0M196.5 1208.2h34.9M772.8 1208.2h-34.9M196.5 1141.8h17.0M772.8 1141.8h-17.0M869.0 1082.0v17.0M869.0 1600.2v-17.0M965.1 1082.0v34.9M965.1 1600.2v-34.9M1061.2 1082.0v17.0M1061.2 1600.2v-17.0M1157.2 1082.0v34.9M1157.2 1600.2v-34.9M1253.2 1082.0v17.0M1253.2 1600.2v-17.0M773.0 1540.4h17.0M1349.3 1540.4h-17.0M773.0 1474.0h34.9M1349.3 1474.0h-34.9M773.0 1407.5h17.0M1349.3 1407.5h-17.0M773.0 1341.1h34.9M1349.3 1341.1h-34.9M773.0 1274.7h17.0M1349.3 1274.7h-17.0M773.0 1208.2h34.9M1349.3 1208.2h-34.9M773.0 1141.8h17.0M1349.3 1141.8h-17.0M1445.1 1082.0v17.0M1445.1 1600.2v-17.0M1541.2 1082.0v34.9M1541.2 1600.2v-34.9M1637.2 1082.0v17.0M1637.2 1600.2v-17.0M1733.3 1082.0v34.9M1733.3 1600.2v-34.9M1829.3 1082.0v17.0M1829.3 1600.2v-17.0M1349.1 1540.4h17.0M1925.4 1540.4h-17.0M1349.1 1474.0h34.9M1925.4 1474.0h-34.9M1349.1 1407.5h17.0M1925.4 1407.5h-17.0M1349.1 1341.1h34.9M1925.4 1341.1h-34.9M1349.1 1274.7h17.0M1925.4 1274.7h-17.0M1349.1 1208.2h34.9M1925.4 1208.2h-34.9M1349.1 1141.8h17.0M1925.4 1141.8h-17.0"/>
</g>
<g font-size="57.8">
<text x="242.2" y="126.7" xml:space="preserve">Stopper=4 cm  D0</text>
<text x="818.7" y="126.7" xml:space="preserve">Stopper=4 cm  D300</text>
<text x="1394.8" y="126.7" xml:space="preserve">Stopper=4 cm  D2000</text>
<text x="242.2" y="644.9" xml:space="preserve">Stopper=6 cm  D0</text>
<text x="818.7" y="644.9" xml:space="preserve">Stopper=6 cm  D300</text>
<text x="1394.8" y="644.9" xml:space="preserve">Stopper=6 cm  D2000</text>
<text x="242.2" y="1163.2" xml:space="preserve">Stopper=8 cm  D0</text>
<text x="818.7" y="1163.2" xml:space="preserve">Stopper=8 cm  D300</text>
<text x="1394.8" y="1163.2" xml:space="preserve">Stopper=8 cm  D2000</text>
</g>
<g font-size="66" text-anchor="middle">
<text x="196.5" y="1661.3">0</text>
<text x="390.1" y="1661.3">10</text>
<text x="580.7" y="1661.3">20</text>
<text x="773.0" y="1661.3">0</text>
<text x="966.6" y="1661.3">10</text>
<text x="1157.2" y="1661.3">20</text>
<text x="1349.1" y="1661.3">0</text>
<text x="1542.7" y="1661.3">10</text>
<text x="1733.3" y="1661.3">20</text>
<text x="1925.4" y="1661.3">30</text>
</g>
<g font-size="66" text-anchor="end">
<text x="185" y="189.2">2</text>
<text x="185" y="322.1">0</text>
<text x="185" y="455.0">-2</text>
<text x="185" y="707.4">2</text>
<text x="185" y="840.3">0</text>
<text x="185" y="973.2">-2</text>
<text x="185" y="1225.7">2</text>
<text x="185" y="1358.6">0</text>
<text x="185" y="1491.5">-2</text>
</g>
<g font-size="57.5" text-anchor="middle">
<text x="1048.3" y="1738.9">time(s)</text>
<text transform="translate(80.6 788.6) rotate(-90)" font-size="57.8" letter-spacing="0.28">Viscous damper force (MN)</text>
</g>
</svg></body></html>
